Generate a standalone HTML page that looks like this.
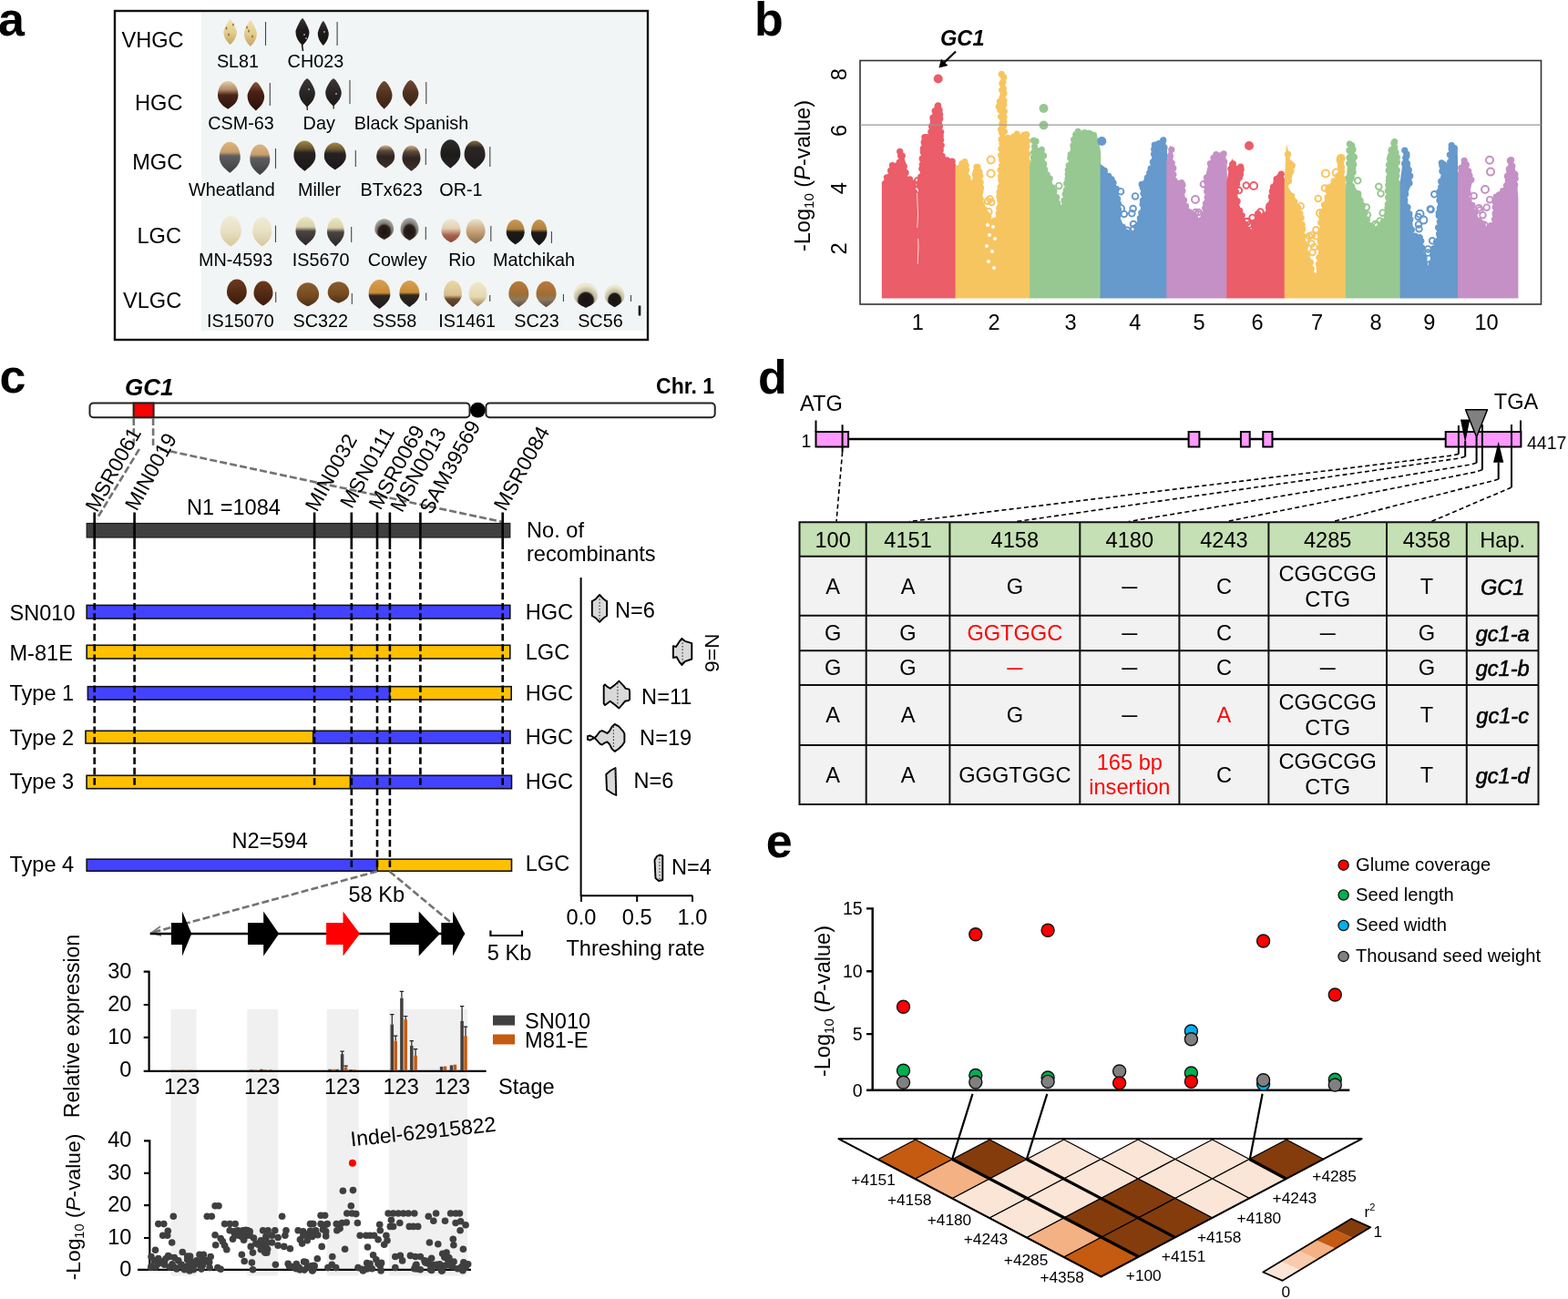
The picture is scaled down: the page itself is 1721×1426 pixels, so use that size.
<!DOCTYPE html>
<html><head><meta charset="utf-8"><title>Figure</title>
<style>
html,body{margin:0;padding:0;background:#fff;width:1721px;height:1426px;overflow:hidden}
svg{display:block}
text{font-family:"Liberation Sans",Arial,sans-serif}
.pl{font-size:52px;font-weight:bold}
.t228{font-size:22.8px} .t22{font-size:23.6px} .t215{font-size:23.6px} .t21{font-size:21.4px} .t235{font-size:26px}
.t20{font-size:20.2px} .t205{font-size:20.8px} .t195{font-size:19.5px} .t185{font-size:19.8px} .t163{font-size:17.3px}
</style></head><body>
<svg width="1721" height="1426" viewBox="0 0 1721 1426">
<defs><linearGradient id="g_pale" x1="0" y1="0" x2="0" y2="1"><stop offset="0" stop-color="#efe3b4"/><stop offset="0.5" stop-color="#e2cf8e"/><stop offset="1" stop-color="#c4a462"/></linearGradient>
<linearGradient id="g_black" x1="0" y1="0" x2="0" y2="1"><stop offset="0" stop-color="#3a3434"/><stop offset="0.4" stop-color="#201c1c"/><stop offset="1" stop-color="#151212"/></linearGradient>
<linearGradient id="g_csm" x1="0" y1="0" x2="0" y2="1"><stop offset="0" stop-color="#e4cfa4"/><stop offset="0.3" stop-color="#b08a6a"/><stop offset="0.5" stop-color="#4a2418"/><stop offset="1" stop-color="#2a1410"/></linearGradient>
<linearGradient id="g_csm2" x1="0" y1="0" x2="0" y2="1"><stop offset="0" stop-color="#8a5a3a"/><stop offset="0.35" stop-color="#4a2014"/><stop offset="1" stop-color="#2a120c"/></linearGradient>
<linearGradient id="g_day" x1="0" y1="0" x2="0" y2="1"><stop offset="0" stop-color="#3d3838"/><stop offset="0.5" stop-color="#2a2525"/><stop offset="1" stop-color="#1c1818"/></linearGradient>
<linearGradient id="g_brown" x1="0" y1="0" x2="0" y2="1"><stop offset="0" stop-color="#6e4a32"/><stop offset="0.5" stop-color="#4e301e"/><stop offset="1" stop-color="#3a2214"/></linearGradient>
<linearGradient id="g_wheat" x1="0" y1="0" x2="0" y2="1"><stop offset="0" stop-color="#dcb682"/><stop offset="0.33" stop-color="#c89e6c"/><stop offset="0.45" stop-color="#5e5e60"/><stop offset="1" stop-color="#3e3e40"/></linearGradient>
<linearGradient id="g_miller" x1="0" y1="0" x2="0" y2="1"><stop offset="0" stop-color="#a88a48"/><stop offset="0.25" stop-color="#6a5830"/><stop offset="0.4" stop-color="#262222"/><stop offset="1" stop-color="#1a1717"/></linearGradient>
<linearGradient id="g_btx" x1="0" y1="0" x2="0" y2="1"><stop offset="0" stop-color="#cdb48e"/><stop offset="0.25" stop-color="#5a463a"/><stop offset="0.5" stop-color="#2e2420"/><stop offset="1" stop-color="#3e3028"/></linearGradient>
<linearGradient id="g_or1" x1="0" y1="0" x2="0" y2="1"><stop offset="0" stop-color="#2e2b2b"/><stop offset="0.5" stop-color="#1e1b1b"/><stop offset="1" stop-color="#262222"/></linearGradient>
<linearGradient id="g_or1b" x1="0" y1="0" x2="0" y2="1"><stop offset="0" stop-color="#8a7040"/><stop offset="0.25" stop-color="#2a2624"/><stop offset="1" stop-color="#1e1b1b"/></linearGradient>
<linearGradient id="g_cream" x1="0" y1="0" x2="0" y2="1"><stop offset="0" stop-color="#f0ecd8"/><stop offset="0.5" stop-color="#e8e0c2"/><stop offset="1" stop-color="#d6c8a0"/></linearGradient>
<linearGradient id="g_is5670" x1="0" y1="0" x2="0" y2="1"><stop offset="0" stop-color="#ece6c4"/><stop offset="0.35" stop-color="#d8d0a8"/><stop offset="0.5" stop-color="#4a4542"/><stop offset="1" stop-color="#2a2624"/></linearGradient>
<linearGradient id="g_cowley" x1="0" y1="0" x2="0" y2="1"><stop offset="0" stop-color="#a4a29a"/><stop offset="0.3" stop-color="#8e8a82"/><stop offset="0.45" stop-color="#2a201c"/><stop offset="1" stop-color="#1e1614"/></linearGradient>
<linearGradient id="g_rio" x1="0" y1="0" x2="0" y2="1"><stop offset="0" stop-color="#eee8d4"/><stop offset="0.4" stop-color="#e2d0b4"/><stop offset="0.7" stop-color="#a8604a"/><stop offset="1" stop-color="#8a4a36"/></linearGradient>
<linearGradient id="g_rio2" x1="0" y1="0" x2="0" y2="1"><stop offset="0" stop-color="#ece4cc"/><stop offset="0.5" stop-color="#c8a478"/><stop offset="1" stop-color="#8a6a48"/></linearGradient>
<linearGradient id="g_match" x1="0" y1="0" x2="0" y2="1"><stop offset="0" stop-color="#c89a52"/><stop offset="0.38" stop-color="#b08040"/><stop offset="0.5" stop-color="#1e1a1a"/><stop offset="1" stop-color="#141212"/></linearGradient>
<linearGradient id="g_is15070" x1="0" y1="0" x2="0" y2="1"><stop offset="0" stop-color="#6a3a1e"/><stop offset="0.5" stop-color="#552a14"/><stop offset="1" stop-color="#3a1c0c"/></linearGradient>
<linearGradient id="g_sc322" x1="0" y1="0" x2="0" y2="1"><stop offset="0" stop-color="#8c5e30"/><stop offset="0.6" stop-color="#74491f"/><stop offset="1" stop-color="#4a2e18"/></linearGradient>
<linearGradient id="g_ss58" x1="0" y1="0" x2="0" y2="1"><stop offset="0" stop-color="#d8a050"/><stop offset="0.45" stop-color="#c88c3a"/><stop offset="0.55" stop-color="#2e2622"/><stop offset="1" stop-color="#1e1a18"/></linearGradient>
<linearGradient id="g_is1461" x1="0" y1="0" x2="0" y2="1"><stop offset="0" stop-color="#ead8aa"/><stop offset="0.55" stop-color="#d8c08c"/><stop offset="0.7" stop-color="#6a4a30"/><stop offset="1" stop-color="#4a3424"/></linearGradient>
<linearGradient id="g_is1461b" x1="0" y1="0" x2="0" y2="1"><stop offset="0" stop-color="#f0e8cc"/><stop offset="0.6" stop-color="#e6d8b0"/><stop offset="1" stop-color="#a08050"/></linearGradient>
<linearGradient id="g_sc23" x1="0" y1="0" x2="0" y2="1"><stop offset="0" stop-color="#b87c3c"/><stop offset="0.5" stop-color="#a06c34"/><stop offset="0.7" stop-color="#8a7a60"/><stop offset="1" stop-color="#5a4a3a"/></linearGradient>
<linearGradient id="g_sc56" x1="0" y1="0" x2="0" y2="1"><stop offset="0" stop-color="#ece8d0"/><stop offset="0.4" stop-color="#ddd4b0"/><stop offset="0.55" stop-color="#241e1c"/><stop offset="1" stop-color="#1a1616"/></linearGradient>
<radialGradient id="g_rcowley" cx="0.5" cy="0.62" r="0.55"><stop offset="0" stop-color="#1c1412"/><stop offset="0.55" stop-color="#2a201c"/><stop offset="0.72" stop-color="#7a756e"/><stop offset="1" stop-color="#a3a19a"/></radialGradient>
<radialGradient id="g_rsc56" cx="0.5" cy="0.7" r="0.6"><stop offset="0" stop-color="#161212"/><stop offset="0.5" stop-color="#1e1a18"/><stop offset="0.62" stop-color="#bdb69a"/><stop offset="1" stop-color="#ece8d0"/></radialGradient></defs>
<rect width="1721" height="1426" fill="#fff"/>
<text x="-2" y="38.8" class="pl">a</text>
<rect x="221" y="14" width="487" height="349" fill="#f2f5f5"/>
<rect x="126" y="12" width="585" height="361" fill="none" stroke="#111" stroke-width="2.4"/>
<text x="201.6" y="52.199999999999996" class="t22" text-anchor="end">VHGC</text>
<text x="200.5" y="121.1" class="t22" text-anchor="end">HGC</text>
<text x="200.2" y="186.4" class="t22" text-anchor="end">MGC</text>
<text x="199" y="266.5" class="t22" text-anchor="end">LGC</text>
<text x="199.2" y="338.0" class="t22" text-anchor="end">VLGC</text>
<path d="M252.6,21.1 C254.0,21.1 259.8,32.3 259.8,35.1 C259.8,42.1 255.5,46.3 252.6,49.1 C249.7,46.3 245.4,42.1 245.4,35.1 C245.4,32.3 251.2,21.1 252.6,21.1 Z" fill="url(#g_pale)"/>
<path d="M274.9,22.1 C276.3,22.1 281.9,33.6 281.9,36.5 C281.9,43.7 277.7,48.0 274.9,50.9 C272.1,48.0 267.9,43.7 267.9,36.5 C267.9,33.6 273.5,22.1 274.9,22.1 Z" fill="url(#g_pale)"/>
<path d="M332.0,20.1 C333.5,20.1 339.5,32.1 339.5,35.1 C339.5,42.6 334.6,47.1 332.0,50.1 C329.4,47.1 324.5,42.6 324.5,35.1 C324.5,32.1 330.5,20.1 332.0,20.1 Z" fill="url(#g_black)"/>
<path d="M354.8,23.0 C356.0,23.0 360.8,33.8 360.8,36.5 C360.8,43.2 357.2,47.3 354.8,50.0 C352.4,47.3 348.8,43.2 348.8,36.5 C348.8,33.8 353.6,23.0 354.8,23.0 Z" fill="url(#g_black)"/>
<path d="M250.2,89.1 C256.5,89.1 261.4,95.8 261.4,104.4 C261.4,112.1 255.2,116.6 250.2,119.7 C245.2,116.6 239.0,112.1 239.0,104.4 C239.0,95.8 243.9,89.1 250.2,89.1 Z" fill="url(#g_csm)"/>
<path d="M280.9,90.0 C283.7,90.0 290.2,101.1 290.2,105.8 C290.2,113.7 284.2,118.4 280.9,121.6 C277.6,118.4 271.6,113.7 271.6,105.8 C271.6,101.1 278.1,90.0 280.9,90.0 Z" fill="url(#g_csm2)"/>
<path d="M337.1,86.2 C339.7,86.2 345.9,97.3 345.9,102.0 C345.9,109.9 339.7,114.6 337.1,117.8 C334.5,114.6 328.3,109.9 328.3,102.0 C328.3,97.3 334.5,86.2 337.1,86.2 Z" fill="url(#g_day)"/>
<path d="M366.0,86.2 C368.6,86.2 374.8,96.9 374.8,101.5 C374.8,109.2 368.6,113.7 366.0,116.8 C363.4,113.7 357.2,109.2 357.2,101.5 C357.2,96.9 363.4,86.2 366.0,86.2 Z" fill="url(#g_day)"/>
<path d="M421.7,89.1 C424.8,89.1 430.5,99.0 430.5,104.4 C430.5,112.1 424.3,116.6 421.7,119.7 C419.1,116.6 412.9,112.1 412.9,104.4 C412.9,99.0 418.6,89.1 421.7,89.1 Z" fill="url(#g_brown)"/>
<path d="M450.6,88.1 C453.7,88.1 459.4,97.5 459.4,102.5 C459.4,109.7 453.2,114.0 450.6,116.9 C448.0,114.0 441.8,109.7 441.8,102.5 C441.8,97.5 447.5,88.1 450.6,88.1 Z" fill="url(#g_brown)"/>
<path d="M252.3,155.8 C258.7,155.8 263.8,163.3 263.8,172.8 C263.8,181.3 256.3,186.4 252.3,189.8 C248.3,186.4 240.8,181.3 240.8,172.8 C240.8,163.3 245.9,155.8 252.3,155.8 Z" fill="url(#g_wheat)"/>
<path d="M285.3,158.6 C291.5,158.6 296.3,165.9 296.3,175.3 C296.3,183.7 289.2,188.7 285.3,192.0 C281.4,188.7 274.3,183.7 274.3,175.3 C274.3,165.9 279.1,158.6 285.3,158.6 Z" fill="url(#g_wheat)"/>
<path d="M334.4,154.4 C341.1,154.4 346.4,161.7 346.4,171.1 C346.4,179.4 338.6,184.5 334.4,187.8 C330.2,184.5 322.4,179.4 322.4,171.1 C322.4,161.7 327.7,154.4 334.4,154.4 Z" fill="url(#g_miller)"/>
<path d="M367.8,156.6 C374.5,156.6 379.8,163.2 379.8,171.6 C379.8,179.1 372.0,183.6 367.8,186.6 C363.6,183.6 355.8,179.1 355.8,171.6 C355.8,163.2 361.1,156.6 367.8,156.6 Z" fill="url(#g_miller)"/>
<path d="M423.2,159.6 C428.8,159.6 433.2,165.1 433.2,172.1 C433.2,178.3 427.2,182.1 423.2,184.6 C419.2,182.1 413.2,178.3 413.2,172.1 C413.2,165.1 417.6,159.6 423.2,159.6 Z" fill="url(#g_btx)"/>
<path d="M451.5,159.7 C457.1,159.7 461.5,165.9 461.5,173.7 C461.5,180.7 455.5,184.9 451.5,187.7 C447.5,184.9 441.5,180.7 441.5,173.7 C441.5,165.9 445.9,159.7 451.5,159.7 Z" fill="url(#g_btx)"/>
<path d="M494.4,153.3 C500.6,153.3 505.4,160.2 505.4,169.0 C505.4,176.8 498.2,181.6 494.4,184.7 C490.5,181.6 483.4,176.8 483.4,169.0 C483.4,160.2 488.2,153.3 494.4,153.3 Z" fill="url(#g_or1)"/>
<path d="M521.1,154.4 C527.5,154.4 532.6,161.3 532.6,170.1 C532.6,177.9 525.1,182.7 521.1,185.8 C517.1,182.7 509.6,177.9 509.6,170.1 C509.6,161.3 514.7,154.4 521.1,154.4 Z" fill="url(#g_or1b)"/>
<path d="M253.3,237.1 C259.7,237.1 264.8,244.4 264.8,253.8 C264.8,262.2 258.5,267.2 253.3,270.5 C248.1,267.2 241.8,262.2 241.8,253.8 C241.8,244.4 246.9,237.1 253.3,237.1 Z" fill="url(#g_cream)"/>
<path d="M287.8,238.1 C293.7,238.1 298.3,245.2 298.3,254.3 C298.3,262.4 292.5,267.3 287.8,270.5 C283.1,267.3 277.3,262.4 277.3,254.3 C277.3,245.2 281.9,238.1 287.8,238.1 Z" fill="url(#g_cream)"/>
<path d="M335.5,238.1 C341.7,238.1 346.5,245.0 346.5,253.8 C346.5,261.7 338.8,266.4 335.5,269.5 C332.2,266.4 324.5,261.7 324.5,253.8 C324.5,245.0 329.3,238.1 335.5,238.1 Z" fill="url(#g_is5670)"/>
<path d="M368.4,239.1 C373.7,239.1 377.8,246.0 377.8,254.8 C377.8,262.7 371.2,267.4 368.4,270.5 C365.6,267.4 359.0,262.7 359.0,254.8 C359.0,246.0 363.1,239.1 368.4,239.1 Z" fill="url(#g_is5670)"/>
<path d="M421.7,240.2 C427.6,240.2 432.2,245.3 432.2,251.7 C432.2,257.4 426.4,260.9 421.7,263.2 C417.0,260.9 411.2,257.4 411.2,251.7 C411.2,245.3 415.8,240.2 421.7,240.2 Z" fill="url(#g_rcowley)"/>
<path d="M449.5,239.2 C455.1,239.2 459.5,244.7 459.5,251.7 C459.5,257.9 454.0,261.7 449.5,264.2 C445.0,261.7 439.5,257.9 439.5,251.7 C439.5,244.7 443.9,239.2 449.5,239.2 Z" fill="url(#g_rcowley)"/>
<path d="M495.0,240.3 C500.9,240.3 505.5,246.0 505.5,253.3 C505.5,259.8 500.2,263.7 495.0,266.3 C489.8,263.7 484.5,259.8 484.5,253.3 C484.5,246.0 489.1,240.3 495.0,240.3 Z" fill="url(#g_rio)"/>
<path d="M522.1,240.2 C528.0,240.2 532.6,246.2 532.6,253.8 C532.6,260.6 527.4,264.7 522.1,267.4 C516.9,264.7 511.6,260.6 511.6,253.8 C511.6,246.2 516.2,240.2 522.1,240.2 Z" fill="url(#g_rio2)"/>
<path d="M565.7,241.1 C571.3,241.1 575.7,247.1 575.7,254.8 C575.7,261.7 569.7,265.8 565.7,268.5 C561.7,265.8 555.7,261.7 555.7,254.8 C555.7,247.1 560.1,241.1 565.7,241.1 Z" fill="url(#g_match)"/>
<path d="M591.7,241.0 C596.6,241.0 600.4,247.2 600.4,255.2 C600.4,262.3 595.2,266.6 591.7,269.4 C588.2,266.6 583.0,262.3 583.0,255.2 C583.0,247.2 586.8,241.0 591.7,241.0 Z" fill="url(#g_match)"/>
<path d="M259.9,306.6 C266.0,306.6 270.8,312.8 270.8,320.6 C270.8,327.6 265.3,331.8 259.9,334.6 C254.4,331.8 249.0,327.6 249.0,320.6 C249.0,312.8 253.8,306.6 259.9,306.6 Z" fill="url(#g_is15070)"/>
<path d="M289.0,308.5 C294.9,308.5 299.5,314.4 299.5,322.0 C299.5,328.8 293.7,332.8 289.0,335.5 C284.3,332.8 278.5,328.8 278.5,322.0 C278.5,314.4 283.1,308.5 289.0,308.5 Z" fill="url(#g_is15070)"/>
<path d="M337.9,310.2 C344.7,310.2 350.1,315.9 350.1,323.2 C350.1,329.7 344.6,333.6 337.9,336.2 C331.2,333.6 325.7,329.7 325.7,323.2 C325.7,315.9 331.1,310.2 337.9,310.2 Z" fill="url(#g_sc322)"/>
<path d="M371.5,309.2 C378.1,309.2 383.3,314.4 383.3,321.0 C383.3,326.9 378.6,330.4 371.5,332.8 C364.4,330.4 359.7,326.9 359.7,321.0 C359.7,314.4 364.9,309.2 371.5,309.2 Z" fill="url(#g_sc322)"/>
<path d="M416.5,307.0 C423.2,307.0 428.4,314.0 428.4,323.0 C428.4,331.0 420.7,335.8 416.5,339.0 C412.3,335.8 404.6,331.0 404.6,323.0 C404.6,314.0 409.8,307.0 416.5,307.0 Z" fill="url(#g_ss58)"/>
<path d="M449.4,307.9 C455.6,307.9 460.4,314.3 460.4,322.5 C460.4,329.8 453.2,334.2 449.4,337.1 C445.5,334.2 438.4,329.8 438.4,322.5 C438.4,314.3 443.2,307.9 449.4,307.9 Z" fill="url(#g_ss58)"/>
<path d="M497.0,307.9 C502.6,307.9 507.0,314.3 507.0,322.5 C507.0,329.8 500.5,334.2 497.0,337.1 C493.5,334.2 487.0,329.8 487.0,322.5 C487.0,314.3 491.4,307.9 497.0,307.9 Z" fill="url(#g_is1461)"/>
<path d="M524.5,309.7 C530.1,309.7 534.5,315.6 534.5,323.0 C534.5,329.6 528.0,333.6 524.5,336.3 C521.0,333.6 514.5,329.6 514.5,323.0 C514.5,315.6 518.9,309.7 524.5,309.7 Z" fill="url(#g_is1461b)"/>
<path d="M569.3,308.8 C575.5,308.8 580.3,315.0 580.3,323.0 C580.3,330.1 573.7,334.4 569.3,337.2 C564.9,334.4 558.3,330.1 558.3,323.0 C558.3,315.0 563.1,308.8 569.3,308.8 Z" fill="url(#g_sc23)"/>
<path d="M599.5,308.8 C605.7,308.8 610.5,315.0 610.5,323.0 C610.5,330.1 603.9,334.4 599.5,337.2 C595.1,334.4 588.5,330.1 588.5,323.0 C588.5,315.0 593.3,308.8 599.5,308.8 Z" fill="url(#g_sc23)"/>
<path d="M643.0,310.6 C650.4,310.6 656.3,316.6 656.3,324.3 C656.3,331.2 649.0,335.3 643.0,338.0 C637.0,335.3 629.7,331.2 629.7,324.3 C629.7,316.6 635.6,310.6 643.0,310.6 Z" fill="url(#g_rsc56)"/>
<path d="M674.6,312.4 C680.8,312.4 685.6,317.9 685.6,324.8 C685.6,331.0 679.6,334.7 674.6,337.2 C669.6,334.7 663.6,331.0 663.6,324.8 C663.6,317.9 668.4,312.4 674.6,312.4 Z" fill="url(#g_rsc56)"/>
<ellipse cx="248.5" cy="31" rx="0.9" ry="1.6" fill="#8a4a2a" opacity="0.8"/>
<ellipse cx="251" cy="38" rx="0.9" ry="1.6" fill="#8a4a2a" opacity="0.8"/>
<ellipse cx="256" cy="27" rx="0.9" ry="1.6" fill="#8a4a2a" opacity="0.8"/>
<ellipse cx="271" cy="30" rx="0.9" ry="1.6" fill="#8a4a2a" opacity="0.8"/>
<ellipse cx="277" cy="40" rx="0.9" ry="1.6" fill="#8a4a2a" opacity="0.8"/>
<ellipse cx="273" cy="34" rx="0.9" ry="1.6" fill="#8a4a2a" opacity="0.8"/>
<path d="M331.5,49 L332.5,56" stroke="#1a1616" stroke-width="1.6"/>
<path d="M337,116 L337.4,121 M366,115.5 L366.3,119.5" stroke="#2a2424" stroke-width="1.3"/>
<circle cx="334" cy="38" r="1" fill="#d8d8d8" opacity="0.7"/>
<circle cx="336" cy="42" r="1" fill="#d8d8d8" opacity="0.7"/>
<circle cx="356" cy="35" r="1" fill="#d8d8d8" opacity="0.7"/>
<circle cx="339" cy="98" r="1" fill="#d8d8d8" opacity="0.7"/>
<circle cx="369" cy="103" r="1" fill="#d8d8d8" opacity="0.7"/>
<line x1="291.5" y1="24" x2="291.5" y2="50" stroke="#444" stroke-width="1.1"/>
<line x1="370.1" y1="24" x2="370.1" y2="50" stroke="#444" stroke-width="1.1"/>
<line x1="296.3" y1="91" x2="296.3" y2="116" stroke="#444" stroke-width="1.1"/>
<line x1="384" y1="88" x2="384" y2="114" stroke="#444" stroke-width="1.1"/>
<line x1="467.8" y1="90" x2="467.8" y2="114" stroke="#444" stroke-width="1.1"/>
<line x1="302.5" y1="163" x2="302.5" y2="185" stroke="#444" stroke-width="1.1"/>
<line x1="390.3" y1="165" x2="390.3" y2="183" stroke="#444" stroke-width="1.1"/>
<line x1="467.3" y1="163" x2="467.3" y2="181" stroke="#444" stroke-width="1.1"/>
<line x1="537.8" y1="161" x2="537.8" y2="183" stroke="#444" stroke-width="1.1"/>
<line x1="302.5" y1="247.5" x2="302.5" y2="266" stroke="#444" stroke-width="1.1"/>
<line x1="385.7" y1="249" x2="385.7" y2="266" stroke="#444" stroke-width="1.1"/>
<line x1="467.3" y1="249" x2="467.3" y2="263" stroke="#444" stroke-width="1.1"/>
<line x1="538.8" y1="248" x2="538.8" y2="265" stroke="#444" stroke-width="1.1"/>
<line x1="605.4" y1="254" x2="605.4" y2="267" stroke="#444" stroke-width="1.1"/>
<line x1="302.7" y1="320.6" x2="302.7" y2="332" stroke="#444" stroke-width="1.1"/>
<line x1="386.3" y1="322" x2="386.3" y2="334" stroke="#444" stroke-width="1.1"/>
<line x1="467.7" y1="321.6" x2="467.7" y2="330" stroke="#444" stroke-width="1.1"/>
<line x1="537.7" y1="324" x2="537.7" y2="331" stroke="#444" stroke-width="1.1"/>
<line x1="618.4" y1="323" x2="618.4" y2="331" stroke="#444" stroke-width="1.1"/>
<line x1="692.5" y1="324" x2="692.5" y2="331" stroke="#444" stroke-width="1.1"/>
<line x1="702" y1="335.5" x2="702" y2="346.5" stroke="#111" stroke-width="2.6"/>
<text x="261" y="74.4" class="t185" text-anchor="middle">SL81</text>
<text x="346.4" y="74.4" class="t185" text-anchor="middle">CH023</text>
<text x="264.6" y="142.29999999999998" class="t185" text-anchor="middle">CSM-63</text>
<text x="350.2" y="142.29999999999998" class="t185" text-anchor="middle">Day</text>
<text x="451.5" y="142.29999999999998" class="t185" text-anchor="middle">Black Spanish</text>
<text x="254.4" y="214.79999999999998" class="t185" text-anchor="middle">Wheatland</text>
<text x="350.6" y="214.79999999999998" class="t185" text-anchor="middle">Miller</text>
<text x="429.6" y="214.79999999999998" class="t185" text-anchor="middle">BTx623</text>
<text x="505.9" y="214.79999999999998" class="t185" text-anchor="middle">OR-1</text>
<text x="258.6" y="292.0" class="t185" text-anchor="middle">MN-4593</text>
<text x="352.2" y="292.0" class="t185" text-anchor="middle">IS5670</text>
<text x="436.2" y="292.0" class="t185" text-anchor="middle">Cowley</text>
<text x="507" y="292.0" class="t185" text-anchor="middle">Rio</text>
<text x="586" y="292.0" class="t185" text-anchor="middle">Matchikah</text>
<text x="263.8" y="359.09999999999997" class="t185" text-anchor="middle">IS15070</text>
<text x="351.7" y="359.09999999999997" class="t185" text-anchor="middle">SC322</text>
<text x="433" y="359.09999999999997" class="t185" text-anchor="middle">SS58</text>
<text x="512.6" y="359.09999999999997" class="t185" text-anchor="middle">IS1461</text>
<text x="589" y="359.09999999999997" class="t185" text-anchor="middle">SC23</text>
<text x="658.9" y="359.09999999999997" class="t185" text-anchor="middle">SC56</text>
<text x="828" y="39.3" class="pl">b</text>
<path d="M967.8,327.5 L967.8,200.0 L970.8,197.0 L975.0,190.0 L978.6,180.0 L985.5,177.8 L989.4,164.0 L991.4,170.0 L994.4,179.7 L996.3,194.0 L1001.2,197.4 L1005.2,209.0 L1007.5,214.0 L1010.0,187.6 L1012.0,152.0 L1016.0,147.0 L1019.5,152.0 L1021.0,132.0 L1025.8,118.0 L1029.7,113.0 L1033.5,118.0 L1034.2,148.0 L1034.6,170.0 L1038.5,173.0 L1046.4,176.0 L1049.3,181.0 L1049.3,327.5 Z" fill="#ea5d69"/>
<g fill="#ea5d69"><circle cx="973.4" cy="194.8" r="3.6"/><circle cx="977.6" cy="187.3" r="3.6"/><circle cx="979.4" cy="181.6" r="3.6"/><circle cx="987.2" cy="178.1" r="3.6"/><circle cx="988.6" cy="170.9" r="3.6"/><circle cx="987.7" cy="166.3" r="3.6"/><circle cx="990.3" cy="171.1" r="3.6"/><circle cx="992.3" cy="182.7" r="3.6"/><circle cx="994.1" cy="189.5" r="3.6"/><circle cx="998.6" cy="196.9" r="3.6"/><circle cx="1000.8" cy="200.9" r="3.6"/><circle cx="1002.2" cy="204.1" r="3.6"/><circle cx="1003.5" cy="210.9" r="3.6"/><circle cx="1009.5" cy="213.5" r="3.6"/><circle cx="1010.0" cy="205.0" r="3.6"/><circle cx="1010.1" cy="198.7" r="3.6"/><circle cx="1010.7" cy="194.1" r="3.6"/><circle cx="1011.8" cy="185.3" r="3.6"/><circle cx="1012.3" cy="180.7" r="3.6"/><circle cx="1012.2" cy="174.2" r="3.6"/><circle cx="1013.3" cy="167.1" r="3.6"/><circle cx="1013.3" cy="163.1" r="3.6"/><circle cx="1014.2" cy="156.2" r="3.6"/><circle cx="1014.9" cy="150.7" r="3.6"/><circle cx="1017.1" cy="150.6" r="3.6"/><circle cx="1021.8" cy="150.5" r="3.6"/><circle cx="1021.8" cy="144.9" r="3.6"/><circle cx="1022.6" cy="138.7" r="3.6"/><circle cx="1023.9" cy="129.4" r="3.6"/><circle cx="1026.1" cy="121.8" r="3.6"/><circle cx="1029.0" cy="117.1" r="3.6"/><circle cx="1029.6" cy="115.8" r="3.6"/><circle cx="1031.1" cy="121.1" r="3.6"/><circle cx="1031.6" cy="125.8" r="3.6"/><circle cx="1031.7" cy="130.3" r="3.6"/><circle cx="1031.4" cy="138.4" r="3.6"/><circle cx="1032.7" cy="145.0" r="3.6"/><circle cx="1032.2" cy="149.3" r="3.6"/><circle cx="1032.6" cy="153.6" r="3.6"/><circle cx="1033.2" cy="159.6" r="3.6"/><circle cx="1032.3" cy="164.7" r="3.6"/><circle cx="1034.1" cy="171.3" r="3.6"/><circle cx="1039.5" cy="175.9" r="3.6"/><circle cx="1045.1" cy="177.1" r="3.6"/></g>
<g fill="none" stroke="#ea5d69" stroke-width="1.9"><circle cx="1007.2" cy="198.3" r="3.3"/><circle cx="1004.0" cy="202.5" r="3.3"/></g>
<circle cx="1029.7" cy="86.5" r="5.0" fill="#ea5d69"/>
<path d="M1048.6,327.5 L1048.6,181.0 L1050.3,185.6 L1054.2,177.8 L1060.1,173.9 L1062.0,185.6 L1066.0,201.3 L1071.0,181.7 L1074.8,179.7 L1077.8,197.4 L1078.8,221.0 L1082.7,232.7 L1085.6,236.7 L1089.6,242.6 L1093.5,236.7 L1095.5,217.0 L1097.4,178.0 L1097.4,125.0 L1094.0,119.0 L1097.4,107.0 L1098.4,89.0 L1100.4,80.0 L1102.3,89.0 L1104.0,119.0 L1103.3,150.0 L1109.2,150.0 L1115.1,144.4 L1121.0,148.3 L1126.9,143.4 L1128.8,152.3 L1129.8,174.0 L1130.8,181.7 L1130.8,327.5 Z" fill="#f7c560"/>
<g fill="#f7c560"><circle cx="1052.5" cy="184.7" r="3.6"/><circle cx="1055.9" cy="179.5" r="3.6"/><circle cx="1058.9" cy="177.7" r="3.6"/><circle cx="1060.2" cy="181.6" r="3.6"/><circle cx="1060.6" cy="186.5" r="3.6"/><circle cx="1062.1" cy="195.3" r="3.6"/><circle cx="1067.2" cy="200.9" r="3.6"/><circle cx="1070.4" cy="191.5" r="3.6"/><circle cx="1071.3" cy="188.1" r="3.6"/><circle cx="1071.9" cy="183.3" r="3.6"/><circle cx="1073.0" cy="183.6" r="3.6"/><circle cx="1074.8" cy="188.3" r="3.6"/><circle cx="1075.8" cy="193.0" r="3.6"/><circle cx="1076.1" cy="200.2" r="3.6"/><circle cx="1076.6" cy="206.1" r="3.6"/><circle cx="1076.0" cy="210.1" r="3.6"/><circle cx="1076.3" cy="218.7" r="3.6"/><circle cx="1077.6" cy="224.6" r="3.6"/><circle cx="1080.3" cy="229.9" r="3.6"/><circle cx="1082.3" cy="234.9" r="3.6"/><circle cx="1084.8" cy="237.4" r="3.6"/><circle cx="1091.4" cy="242.4" r="3.6"/><circle cx="1096.3" cy="234.2" r="3.6"/><circle cx="1096.8" cy="228.6" r="3.6"/><circle cx="1097.7" cy="219.9" r="3.6"/><circle cx="1096.9" cy="215.8" r="3.6"/><circle cx="1097.1" cy="210.7" r="3.6"/><circle cx="1098.1" cy="205.3" r="3.6"/><circle cx="1098.8" cy="197.4" r="3.6"/><circle cx="1098.7" cy="193.2" r="3.6"/><circle cx="1098.1" cy="186.5" r="3.6"/><circle cx="1099.7" cy="181.5" r="3.6"/><circle cx="1099.6" cy="175.2" r="3.6"/><circle cx="1098.7" cy="170.4" r="3.6"/><circle cx="1098.9" cy="163.4" r="3.6"/><circle cx="1100.0" cy="157.5" r="3.6"/><circle cx="1099.0" cy="153.0" r="3.6"/><circle cx="1099.6" cy="145.2" r="3.6"/><circle cx="1098.6" cy="142.1" r="3.6"/><circle cx="1099.8" cy="136.2" r="3.6"/><circle cx="1098.6" cy="128.0" r="3.6"/><circle cx="1097.9" cy="120.8" r="3.6"/><circle cx="1096.2" cy="117.1" r="3.6"/><circle cx="1097.4" cy="111.4" r="3.6"/><circle cx="1100.0" cy="107.1" r="3.6"/><circle cx="1099.7" cy="98.8" r="3.6"/><circle cx="1099.9" cy="91.7" r="3.6"/><circle cx="1101.7" cy="84.8" r="3.6"/><circle cx="1099.3" cy="81.4" r="3.6"/><circle cx="1101.0" cy="90.1" r="3.6"/><circle cx="1101.3" cy="97.2" r="3.6"/><circle cx="1101.9" cy="102.6" r="3.6"/><circle cx="1101.9" cy="110.4" r="3.6"/><circle cx="1101.8" cy="114.8" r="3.6"/><circle cx="1102.3" cy="122.3" r="3.6"/><circle cx="1102.0" cy="128.6" r="3.6"/><circle cx="1101.8" cy="133.3" r="3.6"/><circle cx="1101.9" cy="137.6" r="3.6"/><circle cx="1102.4" cy="144.5" r="3.6"/><circle cx="1106.1" cy="151.3" r="3.6"/><circle cx="1112.4" cy="150.0" r="3.6"/><circle cx="1116.2" cy="147.0" r="3.6"/><circle cx="1124.0" cy="148.2" r="3.6"/><circle cx="1126.7" cy="147.8" r="3.6"/><circle cx="1127.5" cy="154.8" r="3.6"/><circle cx="1127.0" cy="160.8" r="3.6"/><circle cx="1127.7" cy="169.1" r="3.6"/><circle cx="1127.8" cy="177.8" r="3.6"/></g>
<g fill="none" stroke="#f7c560" stroke-width="1.9"><circle cx="1084.1" cy="220.8" r="3.3"/><circle cx="1085.4" cy="232.2" r="3.3"/><circle cx="1088.3" cy="221.9" r="3.3"/><circle cx="1086.5" cy="218.4" r="3.3"/></g>
<circle cx="1087.6" cy="175.5" r="3.9999999999999996" fill="none" stroke="#f7c560" stroke-width="2"/>
<circle cx="1087.6" cy="190.5" r="3.9999999999999996" fill="none" stroke="#f7c560" stroke-width="2"/>
<path d="M1130.1,327.5 L1130.1,181.7 L1133.0,170.0 L1135.7,152.0 L1138.5,160.0 L1141.0,170.0 L1144.0,163.0 L1146.5,170.0 L1147.0,178.8 L1150.0,190.0 L1153.4,194.5 L1156.0,205.0 L1159.0,209.0 L1162.0,220.0 L1165.0,227.0 L1168.0,210.0 L1171.0,187.6 L1174.0,170.0 L1176.0,156.0 L1179.0,148.0 L1182.0,142.5 L1188.0,145.0 L1194.6,142.5 L1200.0,146.0 L1204.4,150.0 L1207.0,160.0 L1208.3,168.0 L1208.3,327.5 Z" fill="#97c891"/>
<g fill="#97c891"><circle cx="1134.5" cy="172.9" r="3.6"/><circle cx="1134.6" cy="167.3" r="3.6"/><circle cx="1135.5" cy="161.1" r="3.6"/><circle cx="1137.0" cy="155.2" r="3.6"/><circle cx="1134.5" cy="154.3" r="3.6"/><circle cx="1138.5" cy="165.9" r="3.6"/><circle cx="1142.9" cy="170.2" r="3.6"/><circle cx="1143.3" cy="164.4" r="3.6"/><circle cx="1145.5" cy="170.9" r="3.6"/><circle cx="1145.7" cy="179.9" r="3.6"/><circle cx="1146.6" cy="186.0" r="3.6"/><circle cx="1149.2" cy="191.9" r="3.6"/><circle cx="1152.2" cy="196.0" r="3.6"/><circle cx="1154.9" cy="205.9" r="3.6"/><circle cx="1156.9" cy="209.6" r="3.6"/><circle cx="1159.7" cy="216.7" r="3.6"/><circle cx="1160.6" cy="223.0" r="3.6"/><circle cx="1167.3" cy="227.0" r="3.6"/><circle cx="1168.0" cy="220.2" r="3.6"/><circle cx="1169.1" cy="213.1" r="3.6"/><circle cx="1170.3" cy="208.6" r="3.6"/><circle cx="1170.7" cy="201.3" r="3.6"/><circle cx="1172.0" cy="196.3" r="3.6"/><circle cx="1172.2" cy="191.3" r="3.6"/><circle cx="1172.3" cy="186.6" r="3.6"/><circle cx="1173.2" cy="181.5" r="3.6"/><circle cx="1174.8" cy="173.5" r="3.6"/><circle cx="1175.2" cy="169.5" r="3.6"/><circle cx="1177.9" cy="159.8" r="3.6"/><circle cx="1178.6" cy="153.3" r="3.6"/><circle cx="1180.7" cy="147.9" r="3.6"/><circle cx="1183.2" cy="144.3" r="3.6"/><circle cx="1190.3" cy="145.7" r="3.6"/><circle cx="1196.3" cy="146.7" r="3.6"/><circle cx="1200.5" cy="148.3" r="3.6"/><circle cx="1204.5" cy="156.2" r="3.6"/></g>
<g fill="none" stroke="#97c891" stroke-width="1.9"><circle cx="1162.3" cy="203.9" r="3.3"/></g>
<circle cx="1145.5" cy="119" r="5.0" fill="#97c891"/>
<circle cx="1145.5" cy="137.5" r="5.0" fill="#97c891"/>
<path d="M1207.6,327.5 L1207.6,180.0 L1212.0,183.0 L1216.0,190.0 L1220.0,193.5 L1223.0,200.0 L1226.0,205.0 L1228.0,215.0 L1230.0,227.0 L1228.0,235.0 L1232.0,245.0 L1236.0,252.0 L1241.7,256.0 L1246.0,250.0 L1249.0,240.0 L1252.0,228.0 L1253.0,215.0 L1252.0,202.0 L1257.0,195.0 L1262.0,185.0 L1264.3,172.0 L1265.3,158.0 L1270.0,156.0 L1275.0,152.0 L1278.0,150.0 L1280.0,160.0 L1281.0,166.0 L1281.0,327.5 Z" fill="#6699cc"/>
<g fill="#6699cc"><circle cx="1212.3" cy="187.4" r="3.6"/><circle cx="1216.8" cy="193.4" r="3.6"/><circle cx="1220.0" cy="196.8" r="3.6"/><circle cx="1222.0" cy="200.7" r="3.6"/><circle cx="1225.3" cy="207.4" r="3.6"/><circle cx="1226.6" cy="218.3" r="3.6"/><circle cx="1227.4" cy="223.6" r="3.6"/><circle cx="1227.5" cy="229.8" r="3.6"/><circle cx="1225.9" cy="235.9" r="3.6"/><circle cx="1232.2" cy="249.0" r="3.6"/><circle cx="1236.7" cy="255.0" r="3.6"/><circle cx="1243.6" cy="257.0" r="3.6"/><circle cx="1247.5" cy="248.8" r="3.6"/><circle cx="1251.3" cy="239.6" r="3.6"/><circle cx="1252.8" cy="233.8" r="3.6"/><circle cx="1254.1" cy="224.3" r="3.6"/><circle cx="1254.4" cy="220.1" r="3.6"/><circle cx="1255.0" cy="212.2" r="3.6"/><circle cx="1254.3" cy="205.9" r="3.6"/><circle cx="1253.2" cy="202.4" r="3.6"/><circle cx="1259.3" cy="195.2" r="3.6"/><circle cx="1261.7" cy="189.9" r="3.6"/><circle cx="1263.1" cy="185.1" r="3.6"/><circle cx="1265.4" cy="177.8" r="3.6"/><circle cx="1266.6" cy="169.2" r="3.6"/><circle cx="1266.7" cy="163.9" r="3.6"/><circle cx="1267.3" cy="159.0" r="3.6"/><circle cx="1271.9" cy="157.6" r="3.6"/><circle cx="1276.8" cy="153.9" r="3.6"/><circle cx="1278.0" cy="162.0" r="3.6"/></g>
<g fill="none" stroke="#6699cc" stroke-width="1.9"><circle cx="1230.1" cy="210.2" r="3.3"/><circle cx="1233.8" cy="234.9" r="3.3"/><circle cx="1244.2" cy="251.2" r="3.3"/><circle cx="1237.3" cy="252.8" r="3.3"/><circle cx="1244.0" cy="246.1" r="3.3"/><circle cx="1242.3" cy="234.3" r="3.3"/><circle cx="1243.6" cy="229.1" r="3.3"/><circle cx="1246.0" cy="215.4" r="3.3"/></g>
<circle cx="1209.3" cy="155" r="5.0" fill="#6699cc"/>
<circle cx="1230" cy="229" r="3.9999999999999996" fill="none" stroke="#6699cc" stroke-width="2"/>
<circle cx="1226" cy="236" r="3.9999999999999996" fill="none" stroke="#6699cc" stroke-width="2"/>
<path d="M1280.3,327.5 L1280.3,178.0 L1283.0,165.0 L1284.7,159.0 L1286.5,168.0 L1288.6,181.7 L1290.0,195.0 L1291.6,201.0 L1295.0,198.0 L1299.4,201.0 L1300.5,215.0 L1301.4,223.0 L1305.0,230.0 L1309.0,234.0 L1313.0,236.0 L1316.0,240.0 L1319.0,246.5 L1321.0,235.0 L1323.0,213.0 L1323.0,195.0 L1325.0,185.0 L1329.0,175.0 L1332.8,167.0 L1338.0,170.0 L1344.6,167.0 L1346.5,180.0 L1347.0,197.0 L1347.0,327.5 Z" fill="#c490c6"/>
<g fill="#c490c6"><circle cx="1285.8" cy="164.3" r="3.6"/><circle cx="1284.5" cy="171.0" r="3.6"/><circle cx="1286.3" cy="179.0" r="3.6"/><circle cx="1287.8" cy="184.7" r="3.6"/><circle cx="1287.9" cy="191.5" r="3.6"/><circle cx="1288.8" cy="198.2" r="3.6"/><circle cx="1292.9" cy="201.3" r="3.6"/><circle cx="1296.8" cy="200.7" r="3.6"/><circle cx="1298.0" cy="203.1" r="3.6"/><circle cx="1297.9" cy="209.4" r="3.6"/><circle cx="1299.6" cy="219.8" r="3.6"/><circle cx="1301.5" cy="226.4" r="3.6"/><circle cx="1305.2" cy="232.5" r="3.6"/><circle cx="1308.8" cy="235.3" r="3.6"/><circle cx="1311.4" cy="238.0" r="3.6"/><circle cx="1315.7" cy="242.5" r="3.6"/><circle cx="1322.1" cy="243.8" r="3.6"/><circle cx="1321.5" cy="239.4" r="3.6"/><circle cx="1322.2" cy="234.5" r="3.6"/><circle cx="1322.7" cy="228.5" r="3.6"/><circle cx="1323.5" cy="223.3" r="3.6"/><circle cx="1325.1" cy="216.8" r="3.6"/><circle cx="1324.7" cy="210.3" r="3.6"/><circle cx="1324.8" cy="205.5" r="3.6"/><circle cx="1324.5" cy="199.6" r="3.6"/><circle cx="1324.5" cy="194.9" r="3.6"/><circle cx="1328.4" cy="179.6" r="3.6"/><circle cx="1332.0" cy="173.4" r="3.6"/><circle cx="1334.8" cy="169.7" r="3.6"/><circle cx="1339.7" cy="170.8" r="3.6"/><circle cx="1343.1" cy="168.8" r="3.6"/><circle cx="1343.8" cy="177.6" r="3.6"/></g>
<g fill="none" stroke="#c490c6" stroke-width="1.9"><circle cx="1312.2" cy="233.1" r="3.3"/><circle cx="1324.7" cy="243.2" r="3.3"/><circle cx="1315.5" cy="244.4" r="3.3"/><circle cx="1315.5" cy="232.9" r="3.3"/><circle cx="1320.9" cy="202.2" r="3.3"/></g>
<circle cx="1312" cy="219" r="3.9999999999999996" fill="none" stroke="#c490c6" stroke-width="2"/>
<circle cx="1315" cy="236" r="3.9999999999999996" fill="none" stroke="#c490c6" stroke-width="2"/>
<path d="M1346.3,327.5 L1346.3,200.0 L1348.5,187.6 L1352.4,174.0 L1356.4,183.7 L1360.0,185.0 L1364.0,182.7 L1363.0,195.0 L1357.4,209.0 L1360.3,225.0 L1364.0,235.0 L1368.0,244.5 L1372.0,256.0 L1376.0,245.0 L1380.0,231.0 L1384.0,235.0 L1387.8,236.7 L1391.0,225.0 L1393.7,217.0 L1396.0,205.0 L1398.6,195.5 L1403.0,192.0 L1407.4,189.6 L1410.4,197.4 L1410.4,327.5 Z" fill="#ea5d69"/>
<g fill="#ea5d69"><circle cx="1350.9" cy="185.3" r="3.6"/><circle cx="1352.7" cy="180.3" r="3.6"/><circle cx="1353.4" cy="179.9" r="3.6"/><circle cx="1356.0" cy="185.2" r="3.6"/><circle cx="1362.1" cy="186.2" r="3.6"/><circle cx="1361.7" cy="183.2" r="3.6"/><circle cx="1361.5" cy="191.4" r="3.6"/><circle cx="1360.3" cy="194.9" r="3.6"/><circle cx="1357.5" cy="202.5" r="3.6"/><circle cx="1356.3" cy="210.3" r="3.6"/><circle cx="1358.1" cy="220.9" r="3.6"/><circle cx="1360.7" cy="231.3" r="3.6"/><circle cx="1363.2" cy="236.6" r="3.6"/><circle cx="1366.6" cy="246.6" r="3.6"/><circle cx="1370.0" cy="253.9" r="3.6"/><circle cx="1373.7" cy="255.2" r="3.6"/><circle cx="1376.3" cy="247.7" r="3.6"/><circle cx="1377.1" cy="245.1" r="3.6"/><circle cx="1380.8" cy="237.0" r="3.6"/><circle cx="1380.6" cy="234.7" r="3.6"/><circle cx="1385.3" cy="238.3" r="3.6"/><circle cx="1389.4" cy="235.9" r="3.6"/><circle cx="1392.4" cy="228.1" r="3.6"/><circle cx="1393.0" cy="225.5" r="3.6"/><circle cx="1395.5" cy="215.9" r="3.6"/><circle cx="1396.3" cy="210.0" r="3.6"/><circle cx="1397.4" cy="205.4" r="3.6"/><circle cx="1401.1" cy="196.7" r="3.6"/><circle cx="1404.5" cy="194.1" r="3.6"/><circle cx="1406.3" cy="191.1" r="3.6"/></g>
<g fill="none" stroke="#ea5d69" stroke-width="1.9"><circle cx="1367.8" cy="203.6" r="3.3"/><circle cx="1359.9" cy="209.1" r="3.3"/><circle cx="1374.6" cy="238.9" r="3.3"/><circle cx="1377.3" cy="244.8" r="3.3"/><circle cx="1370.9" cy="246.7" r="3.3"/><circle cx="1369.0" cy="242.9" r="3.3"/><circle cx="1383.4" cy="232.6" r="3.3"/></g>
<circle cx="1371" cy="160" r="5.0" fill="#ea5d69"/>
<circle cx="1376" cy="204" r="3.9999999999999996" fill="none" stroke="#ea5d69" stroke-width="2"/>
<circle cx="1368" cy="244" r="3.9999999999999996" fill="none" stroke="#ea5d69" stroke-width="2"/>
<path d="M1409.7,327.5 L1409.7,200.0 L1411.8,158.0 L1414.0,165.0 L1416.0,175.0 L1419.6,180.7 L1418.0,195.0 L1413.7,205.0 L1418.0,212.0 L1421.6,217.0 L1425.0,225.0 L1429.4,236.7 L1431.0,250.0 L1433.4,266.0 L1436.0,276.0 L1439.3,285.8 L1442.0,298.0 L1444.2,305.4 L1446.0,290.0 L1447.0,276.0 L1448.0,255.0 L1449.0,234.7 L1452.0,225.0 L1455.0,217.0 L1457.0,205.0 L1461.0,200.0 L1466.7,195.0 L1469.0,185.0 L1471.7,174.0 L1474.6,187.6 L1477.5,209.0 L1477.5,327.5 Z" fill="#f7c560"/>
<g fill="#f7c560"><circle cx="1413.6" cy="169.4" r="3.6"/><circle cx="1415.7" cy="179.4" r="3.6"/><circle cx="1418.3" cy="181.7" r="3.6"/><circle cx="1417.0" cy="188.1" r="3.6"/><circle cx="1414.6" cy="198.6" r="3.6"/><circle cx="1417.7" cy="215.1" r="3.6"/><circle cx="1421.0" cy="221.5" r="3.6"/><circle cx="1424.8" cy="227.8" r="3.6"/><circle cx="1426.9" cy="234.3" r="3.6"/><circle cx="1428.1" cy="239.2" r="3.6"/><circle cx="1429.2" cy="246.5" r="3.6"/><circle cx="1429.8" cy="251.4" r="3.6"/><circle cx="1429.9" cy="259.1" r="3.6"/><circle cx="1432.8" cy="269.9" r="3.6"/><circle cx="1434.3" cy="279.2" r="3.6"/><circle cx="1438.4" cy="288.0" r="3.6"/><circle cx="1439.3" cy="295.3" r="3.6"/><circle cx="1442.2" cy="302.7" r="3.6"/><circle cx="1446.8" cy="303.5" r="3.6"/><circle cx="1448.0" cy="294.1" r="3.6"/><circle cx="1447.5" cy="289.9" r="3.6"/><circle cx="1447.8" cy="282.6" r="3.6"/><circle cx="1449.1" cy="272.0" r="3.6"/><circle cx="1449.1" cy="265.2" r="3.6"/><circle cx="1449.6" cy="258.4" r="3.6"/><circle cx="1450.3" cy="254.1" r="3.6"/><circle cx="1449.7" cy="244.5" r="3.6"/><circle cx="1450.8" cy="239.1" r="3.6"/><circle cx="1450.9" cy="233.9" r="3.6"/><circle cx="1453.5" cy="224.8" r="3.6"/><circle cx="1457.1" cy="216.4" r="3.6"/><circle cx="1457.7" cy="208.9" r="3.6"/><circle cx="1458.2" cy="205.9" r="3.6"/><circle cx="1464.2" cy="198.9" r="3.6"/><circle cx="1468.4" cy="193.4" r="3.6"/><circle cx="1471.5" cy="182.8" r="3.6"/><circle cx="1471.5" cy="179.6" r="3.6"/><circle cx="1470.2" cy="176.0" r="3.6"/><circle cx="1472.6" cy="183.6" r="3.6"/><circle cx="1472.6" cy="188.6" r="3.6"/><circle cx="1474.4" cy="196.7" r="3.6"/><circle cx="1474.2" cy="203.5" r="3.6"/></g>
<g fill="none" stroke="#f7c560" stroke-width="1.9"><circle cx="1427.7" cy="226.2" r="3.3"/><circle cx="1437.0" cy="259.3" r="3.3"/><circle cx="1439.6" cy="267.4" r="3.3"/><circle cx="1448.1" cy="290.1" r="3.3"/><circle cx="1450.5" cy="296.5" r="3.3"/><circle cx="1435.9" cy="303.6" r="3.3"/><circle cx="1440.6" cy="276.9" r="3.3"/><circle cx="1444.2" cy="259.3" r="3.3"/><circle cx="1440.1" cy="257.9" r="3.3"/><circle cx="1442.4" cy="271.2" r="3.3"/><circle cx="1444.4" cy="252.3" r="3.3"/><circle cx="1446.8" cy="217.9" r="3.3"/><circle cx="1453.9" cy="206.5" r="3.3"/></g>
<circle cx="1471.7" cy="174" r="5.0" fill="#f7c560"/>
<circle cx="1455" cy="190.5" r="3.9999999999999996" fill="none" stroke="#f7c560" stroke-width="2"/>
<circle cx="1466.7" cy="189.6" r="3.9999999999999996" fill="none" stroke="#f7c560" stroke-width="2"/>
<circle cx="1449" cy="234" r="3.9999999999999996" fill="none" stroke="#f7c560" stroke-width="2"/>
<circle cx="1433" cy="262" r="3.9999999999999996" fill="none" stroke="#f7c560" stroke-width="2"/>
<path d="M1476.8,327.5 L1476.8,209.0 L1479.0,180.0 L1480.5,154.0 L1484.0,158.0 L1486.4,162.0 L1488.0,175.0 L1488.3,185.6 L1486.0,195.0 L1484.4,201.3 L1489.0,208.0 L1494.2,215.0 L1497.0,225.0 L1500.0,236.7 L1503.0,244.0 L1506.0,250.4 L1510.0,252.0 L1513.9,248.5 L1517.0,243.0 L1519.7,236.7 L1521.0,225.0 L1521.7,217.0 L1522.0,195.0 L1523.7,172.0 L1527.0,160.0 L1531.5,152.0 L1534.0,165.0 L1535.5,197.4 L1537.4,200.0 L1537.4,327.5 Z" fill="#97c891"/>
<g fill="#97c891"><circle cx="1480.5" cy="194.9" r="3.6"/><circle cx="1480.7" cy="179.6" r="3.6"/><circle cx="1481.1" cy="173.2" r="3.6"/><circle cx="1480.9" cy="165.1" r="3.6"/><circle cx="1481.4" cy="158.1" r="3.6"/><circle cx="1483.8" cy="159.8" r="3.6"/><circle cx="1485.0" cy="164.2" r="3.6"/><circle cx="1486.4" cy="172.4" r="3.6"/><circle cx="1485.6" cy="180.5" r="3.6"/><circle cx="1485.1" cy="189.2" r="3.6"/><circle cx="1483.3" cy="195.1" r="3.6"/><circle cx="1483.7" cy="204.7" r="3.6"/><circle cx="1490.8" cy="212.6" r="3.6"/><circle cx="1493.1" cy="220.4" r="3.6"/><circle cx="1495.5" cy="225.6" r="3.6"/><circle cx="1498.0" cy="233.8" r="3.6"/><circle cx="1500.3" cy="241.2" r="3.6"/><circle cx="1503.4" cy="247.7" r="3.6"/><circle cx="1506.3" cy="253.2" r="3.6"/><circle cx="1511.4" cy="252.6" r="3.6"/><circle cx="1516.2" cy="247.6" r="3.6"/><circle cx="1518.2" cy="243.4" r="3.6"/><circle cx="1522.2" cy="236.4" r="3.6"/><circle cx="1523.0" cy="228.7" r="3.6"/><circle cx="1523.3" cy="224.4" r="3.6"/><circle cx="1523.6" cy="216.6" r="3.6"/><circle cx="1523.4" cy="209.4" r="3.6"/><circle cx="1523.8" cy="203.1" r="3.6"/><circle cx="1524.4" cy="198.6" r="3.6"/><circle cx="1524.6" cy="194.8" r="3.6"/><circle cx="1524.2" cy="187.2" r="3.6"/><circle cx="1524.5" cy="180.9" r="3.6"/><circle cx="1525.4" cy="174.5" r="3.6"/><circle cx="1526.2" cy="171.3" r="3.6"/><circle cx="1527.0" cy="164.7" r="3.6"/><circle cx="1529.9" cy="157.0" r="3.6"/><circle cx="1530.7" cy="155.5" r="3.6"/><circle cx="1530.7" cy="161.5" r="3.6"/><circle cx="1532.0" cy="167.4" r="3.6"/><circle cx="1533.4" cy="172.7" r="3.6"/><circle cx="1533.4" cy="178.1" r="3.6"/><circle cx="1533.3" cy="186.9" r="3.6"/><circle cx="1532.9" cy="193.0" r="3.6"/></g>
<g fill="none" stroke="#97c891" stroke-width="1.9"><circle cx="1490.2" cy="198.3" r="3.3"/><circle cx="1499.8" cy="227.6" r="3.3"/><circle cx="1509.6" cy="246.0" r="3.3"/><circle cx="1514.7" cy="242.4" r="3.3"/><circle cx="1517.6" cy="233.7" r="3.3"/><circle cx="1513.3" cy="204.8" r="3.3"/><circle cx="1515.5" cy="212.5" r="3.3"/></g>
<circle cx="1500" cy="236" r="3.9999999999999996" fill="none" stroke="#97c891" stroke-width="2"/>
<circle cx="1512" cy="248" r="3.9999999999999996" fill="none" stroke="#97c891" stroke-width="2"/>
<path d="M1536.7,327.5 L1536.7,200.0 L1539.8,176.0 L1543.7,163.0 L1546.0,175.0 L1548.6,185.6 L1549.6,200.4 L1546.0,210.0 L1543.7,217.0 L1546.0,226.0 L1549.6,236.7 L1550.5,246.0 L1551.6,256.3 L1556.0,258.0 L1561.4,260.0 L1562.0,270.0 L1563.4,280.0 L1565.0,292.0 L1566.3,301.5 L1568.0,295.0 L1571.2,276.0 L1574.0,268.0 L1577.0,260.0 L1578.0,240.0 L1578.0,217.0 L1580.0,200.0 L1582.0,189.6 L1581.0,176.8 L1585.0,178.0 L1589.0,179.7 L1591.0,165.0 L1592.8,157.0 L1596.0,160.0 L1599.7,163.0 L1600.0,175.0 L1600.0,327.5 Z" fill="#6699cc"/>
<g fill="#6699cc"><circle cx="1541.6" cy="179.5" r="3.6"/><circle cx="1542.8" cy="173.3" r="3.6"/><circle cx="1543.9" cy="169.0" r="3.6"/><circle cx="1541.8" cy="165.0" r="3.6"/><circle cx="1543.8" cy="171.2" r="3.6"/><circle cx="1544.5" cy="179.7" r="3.6"/><circle cx="1546.3" cy="186.7" r="3.6"/><circle cx="1547.7" cy="193.2" r="3.6"/><circle cx="1547.0" cy="201.0" r="3.6"/><circle cx="1542.6" cy="213.3" r="3.6"/><circle cx="1541.8" cy="219.4" r="3.6"/><circle cx="1545.0" cy="227.5" r="3.6"/><circle cx="1546.9" cy="234.9" r="3.6"/><circle cx="1547.9" cy="240.8" r="3.6"/><circle cx="1549.4" cy="252.2" r="3.6"/><circle cx="1553.1" cy="259.1" r="3.6"/><circle cx="1558.2" cy="260.6" r="3.6"/><circle cx="1559.8" cy="264.5" r="3.6"/><circle cx="1560.9" cy="272.0" r="3.6"/><circle cx="1562.6" cy="282.4" r="3.6"/><circle cx="1563.4" cy="289.4" r="3.6"/><circle cx="1563.9" cy="292.3" r="3.6"/><circle cx="1568.7" cy="298.3" r="3.6"/><circle cx="1569.1" cy="294.6" r="3.6"/><circle cx="1571.2" cy="288.9" r="3.6"/><circle cx="1572.6" cy="280.3" r="3.6"/><circle cx="1573.5" cy="272.8" r="3.6"/><circle cx="1576.5" cy="265.7" r="3.6"/><circle cx="1579.5" cy="256.8" r="3.6"/><circle cx="1578.6" cy="249.8" r="3.6"/><circle cx="1580.3" cy="243.3" r="3.6"/><circle cx="1579.2" cy="236.7" r="3.6"/><circle cx="1579.2" cy="233.5" r="3.6"/><circle cx="1580.4" cy="228.4" r="3.6"/><circle cx="1580.0" cy="219.9" r="3.6"/><circle cx="1580.3" cy="214.4" r="3.6"/><circle cx="1579.9" cy="210.5" r="3.6"/><circle cx="1581.6" cy="205.6" r="3.6"/><circle cx="1581.7" cy="199.0" r="3.6"/><circle cx="1582.9" cy="187.9" r="3.6"/><circle cx="1582.9" cy="182.1" r="3.6"/><circle cx="1582.3" cy="178.8" r="3.6"/><circle cx="1584.8" cy="180.7" r="3.6"/><circle cx="1591.6" cy="177.8" r="3.6"/><circle cx="1591.4" cy="169.8" r="3.6"/><circle cx="1593.1" cy="163.4" r="3.6"/><circle cx="1593.2" cy="159.5" r="3.6"/><circle cx="1596.4" cy="162.7" r="3.6"/></g>
<g fill="none" stroke="#6699cc" stroke-width="1.9"><circle cx="1556.7" cy="238.0" r="3.3"/><circle cx="1557.0" cy="246.4" r="3.3"/><circle cx="1557.5" cy="251.2" r="3.3"/><circle cx="1567.3" cy="273.4" r="3.3"/><circle cx="1567.0" cy="290.4" r="3.3"/><circle cx="1573.6" cy="293.4" r="3.3"/><circle cx="1567.2" cy="277.6" r="3.3"/><circle cx="1562.5" cy="283.7" r="3.3"/><circle cx="1572.1" cy="264.3" r="3.3"/><circle cx="1570.6" cy="229.9" r="3.3"/><circle cx="1569.8" cy="229.4" r="3.3"/><circle cx="1574.3" cy="213.3" r="3.3"/></g>
<circle cx="1558.5" cy="234.7" r="3.9999999999999996" fill="none" stroke="#6699cc" stroke-width="2"/>
<circle cx="1562.4" cy="241.6" r="3.9999999999999996" fill="none" stroke="#6699cc" stroke-width="2"/>
<path d="M1600.0,327.5 L1600.0,189.6 L1604.0,180.0 L1608.5,172.9 L1612.0,185.0 L1616.4,197.4 L1614.0,208.0 L1612.5,217.0 L1616.4,223.0 L1619.0,230.0 L1622.3,238.6 L1628.0,242.6 L1632.0,250.4 L1635.0,246.0 L1638.0,244.5 L1639.0,230.0 L1640.0,217.0 L1643.0,213.0 L1645.8,210.0 L1651.7,205.3 L1652.0,195.0 L1653.7,187.6 L1656.0,178.0 L1658.6,172.9 L1661.0,180.0 L1663.5,187.6 L1665.0,200.0 L1666.4,217.0 L1666.4,327.5 Z" fill="#c490c6"/>
<g fill="#c490c6"><circle cx="1603.7" cy="184.4" r="3.6"/><circle cx="1607.2" cy="179.7" r="3.6"/><circle cx="1607.2" cy="176.4" r="3.6"/><circle cx="1609.4" cy="180.9" r="3.6"/><circle cx="1611.7" cy="187.8" r="3.6"/><circle cx="1612.9" cy="192.5" r="3.6"/><circle cx="1614.8" cy="197.3" r="3.6"/><circle cx="1611.2" cy="211.9" r="3.6"/><circle cx="1612.0" cy="219.9" r="3.6"/><circle cx="1616.0" cy="225.4" r="3.6"/><circle cx="1618.7" cy="233.7" r="3.6"/><circle cx="1623.4" cy="242.4" r="3.6"/><circle cx="1627.3" cy="245.5" r="3.6"/><circle cx="1634.7" cy="249.4" r="3.6"/><circle cx="1636.4" cy="247.7" r="3.6"/><circle cx="1640.5" cy="240.8" r="3.6"/><circle cx="1641.1" cy="234.4" r="3.6"/><circle cx="1641.2" cy="227.5" r="3.6"/><circle cx="1641.1" cy="221.8" r="3.6"/><circle cx="1642.1" cy="216.2" r="3.6"/><circle cx="1645.4" cy="213.8" r="3.6"/><circle cx="1649.6" cy="209.6" r="3.6"/><circle cx="1653.4" cy="203.8" r="3.6"/><circle cx="1654.4" cy="193.4" r="3.6"/><circle cx="1656.3" cy="185.7" r="3.6"/><circle cx="1658.6" cy="175.7" r="3.6"/><circle cx="1657.4" cy="176.4" r="3.6"/><circle cx="1659.9" cy="182.3" r="3.6"/><circle cx="1662.9" cy="191.4" r="3.6"/><circle cx="1663.2" cy="196.0" r="3.6"/><circle cx="1662.7" cy="202.9" r="3.6"/></g>
<g fill="none" stroke="#c490c6" stroke-width="1.9"><circle cx="1617.7" cy="214.9" r="3.3"/><circle cx="1623.2" cy="228.3" r="3.3"/><circle cx="1624.4" cy="230.6" r="3.3"/><circle cx="1627.5" cy="236.2" r="3.3"/><circle cx="1629.8" cy="247.2" r="3.3"/><circle cx="1635.1" cy="219.2" r="3.3"/><circle cx="1631.7" cy="227.7" r="3.3"/></g>
<circle cx="1635" cy="175.8" r="3.9999999999999996" fill="none" stroke="#c490c6" stroke-width="2"/>
<circle cx="1636" cy="188.6" r="3.9999999999999996" fill="none" stroke="#c490c6" stroke-width="2"/>
<circle cx="1630" cy="208" r="3.9999999999999996" fill="none" stroke="#c490c6" stroke-width="2"/>
<path d="M1006.5,212 L1007.5,235 L1006.8,250 M1007.6,262 L1008,270 L1007.2,290" fill="none" stroke="#fff" stroke-width="0.9" opacity="0.85"/>
<g fill="#fff" stroke="#f7c560" stroke-width="1.8"><circle cx="1084" cy="247" r="2.9"/><circle cx="1090" cy="249" r="2.9"/><circle cx="1086" cy="258" r="2.9"/><circle cx="1092" cy="262" r="2.9"/><circle cx="1083" cy="270" r="2.9"/><circle cx="1089" cy="276" r="2.9"/><circle cx="1085" cy="287" r="2.9"/><circle cx="1091" cy="294" r="2.9"/></g>
<rect x="944" y="66.5" width="747.5" height="267.5" fill="none" stroke="#333" stroke-width="1.6"/>
<line x1="944" y1="137.2" x2="1691.5" y2="137.2" stroke="#999" stroke-width="1.3"/>
<text transform="translate(929,81.6) rotate(-90)" class="t22" text-anchor="middle">8</text>
<text transform="translate(929,143.5) rotate(-90)" class="t22" text-anchor="middle">6</text>
<text transform="translate(929,206.8) rotate(-90)" class="t22" text-anchor="middle">4</text>
<text transform="translate(929,273) rotate(-90)" class="t22" text-anchor="middle">2</text>
<text transform="translate(889,193) rotate(-90)" class="t22" text-anchor="middle">-Log<tspan font-size="15" dy="4">10</tspan><tspan dy="-4"> (</tspan><tspan font-style="italic">P</tspan>-value)</text>
<text x="1007.4" y="362" class="t22" text-anchor="middle">1</text>
<text x="1091" y="362" class="t22" text-anchor="middle">2</text>
<text x="1175" y="362" class="t22" text-anchor="middle">3</text>
<text x="1245.7" y="362" class="t22" text-anchor="middle">4</text>
<text x="1316" y="362" class="t22" text-anchor="middle">5</text>
<text x="1380" y="362" class="t22" text-anchor="middle">6</text>
<text x="1445.6" y="362" class="t22" text-anchor="middle">7</text>
<text x="1510" y="362" class="t22" text-anchor="middle">8</text>
<text x="1568.7" y="362" class="t22" text-anchor="middle">9</text>
<text x="1631.5" y="362" class="t22" text-anchor="middle">10</text>
<text x="1032" y="49.7" class="t22" font-weight="bold" font-style="italic">GC1</text>
<line x1="1049" y1="56.5" x2="1036" y2="69" stroke="#000" stroke-width="2.2"/>
<path d="M1030.5,74.5 L1033,64.8 L1040.5,72 Z" fill="#000"/>
<rect x="187.5" y="1108" width="28.099999999999994" height="292.5" fill="#f0f0f0"/>
<rect x="271.3" y="1108" width="33.69999999999999" height="292.5" fill="#f0f0f0"/>
<rect x="358.7" y="1108" width="35.10000000000002" height="292.5" fill="#f0f0f0"/>
<rect x="427" y="1108" width="86" height="292.5" fill="#f0f0f0"/>
<path d="M157.7,1066.6 H163.6 V1175.9 M157.7,1103 H163.6 M157.7,1138.8 H163.6 M157.7,1175.9 H533.6" fill="none" stroke="#000" stroke-width="2.2"/>
<text x="144.4" y="1073.6" class="t22" text-anchor="end">30</text>
<text x="144.4" y="1110" class="t22" text-anchor="end">20</text>
<text x="144.4" y="1145.8" class="t22" text-anchor="end">10</text>
<text x="144.4" y="1182.2" class="t22" text-anchor="end">0</text>
<text x="199.7" y="1200.7" class="t22" text-anchor="middle">123</text>
<text x="287.8" y="1200.7" class="t22" text-anchor="middle">123</text>
<text x="375.6" y="1200.7" class="t22" text-anchor="middle">123</text>
<text x="440.2" y="1200.7" class="t22" text-anchor="middle">123</text>
<text x="496.5" y="1200.7" class="t22" text-anchor="middle">123</text>
<text x="547" y="1200.7" class="t22">Stage</text>
<rect x="541" y="1114.6" width="24" height="11" fill="#404040"/>
<rect x="541" y="1135.5" width="24" height="11" fill="#c55a11"/>
<text x="576" y="1128.5" class="t22">SN010</text>
<text x="576" y="1150" class="t22">M81-E</text>
<text transform="translate(87,1126.5) rotate(-90)" style="font-size:23.1px" text-anchor="middle">Relative expression</text>
<rect x="188.25" y="1174.8" width="3.5" height="0.4" fill="#404040"/>
<rect x="192.25" y="1174.8" width="3.5" height="0.4" fill="#c55a11"/>
<rect x="198.25" y="1174.8" width="3.5" height="0.4" fill="#404040"/>
<rect x="202.25" y="1174.8" width="3.5" height="0.4" fill="#c55a11"/>
<rect x="207.25" y="1174.8" width="3.5" height="0.4" fill="#404040"/>
<rect x="274.25" y="1174.5" width="3.5" height="0.7" fill="#404040"/>
<rect x="278.25" y="1174.5" width="3.5" height="0.7" fill="#c55a11"/>
<rect x="285.25" y="1173.8" width="3.5" height="1.4" fill="#404040"/>
<rect x="289.25" y="1174.1" width="3.5" height="1.1" fill="#c55a11"/>
<rect x="295.25" y="1174.5" width="3.5" height="0.7" fill="#404040"/>
<rect x="360.25" y="1173.8" width="3.5" height="1.4" fill="#404040"/>
<rect x="364.25" y="1173.8" width="3.5" height="1.4" fill="#c55a11"/>
<rect x="368.25" y="1173.8" width="3.5" height="1.4" fill="#404040"/>
<rect x="373.85" y="1157.1" width="3.5" height="18.1" fill="#404040"/>
<path d="M375.6,1157.1 V1154.2 M373.40000000000003,1154.2 H377.8" stroke="#222" stroke-width="1.2" fill="none"/>
<rect x="377.85" y="1171.6" width="3.5" height="3.6" fill="#c55a11"/>
<path d="M379.6,1171.6 V1170.1 M377.40000000000003,1170.1 H381.8" stroke="#222" stroke-width="1.2" fill="none"/>
<rect x="383.25" y="1174.1" width="3.5" height="1.1" fill="#404040"/>
<rect x="387.25" y="1174.1" width="3.5" height="1.1" fill="#c55a11"/>
<rect x="428.55" y="1124.5" width="3.5" height="50.7" fill="#404040"/>
<path d="M430.3,1124.5 V1113.7 M428.1,1113.7 H432.5" stroke="#222" stroke-width="1.2" fill="none"/>
<rect x="432.45" y="1142.6" width="3.5" height="32.6" fill="#c55a11"/>
<path d="M434.2,1142.6 V1137.2 M432.0,1137.2 H436.4" stroke="#222" stroke-width="1.2" fill="none"/>
<rect x="439.15" y="1095.6" width="3.5" height="79.6" fill="#404040"/>
<path d="M440.9,1095.6 V1088.3 M438.7,1088.3 H443.09999999999997" stroke="#222" stroke-width="1.2" fill="none"/>
<rect x="443.45" y="1119.1" width="3.5" height="56.1" fill="#c55a11"/>
<path d="M445.2,1119.1 V1115.5 M443.0,1115.5 H447.4" stroke="#222" stroke-width="1.2" fill="none"/>
<rect x="450.05" y="1148.0" width="3.5" height="27.2" fill="#404040"/>
<path d="M451.8,1148.0 V1142.6 M449.6,1142.6 H454.0" stroke="#222" stroke-width="1.2" fill="none"/>
<rect x="454.35" y="1158.9" width="3.5" height="16.3" fill="#c55a11"/>
<path d="M456.1,1158.9 V1151.7 M453.90000000000003,1151.7 H458.3" stroke="#222" stroke-width="1.2" fill="none"/>
<rect x="482.85" y="1170.9" width="3.5" height="4.3" fill="#404040"/>
<rect x="486.75" y="1170.5" width="3.5" height="4.7" fill="#c55a11"/>
<rect x="493.75" y="1169.4" width="3.5" height="5.8" fill="#404040"/>
<rect x="497.65" y="1168.7" width="3.5" height="6.5" fill="#c55a11"/>
<rect x="505.35" y="1120.9" width="3.5" height="54.3" fill="#404040"/>
<path d="M507.1,1120.9 V1104.6 M504.90000000000003,1104.6 H509.3" stroke="#222" stroke-width="1.2" fill="none"/>
<rect x="509.25" y="1137.2" width="3.5" height="38.0" fill="#c55a11"/>
<path d="M511,1137.2 V1127.1 M508.8,1127.1 H513.2" stroke="#222" stroke-width="1.2" fill="none"/>
<path d="M158,1252.3 H164.3 V1393.8 M158,1287.8 H164.3 M158,1323.2 H164.3 M158,1359 H164.3 M151,1393.8 H517" fill="none" stroke="#000" stroke-width="2.2"/>
<text x="144.4" y="1259.3" class="t22" text-anchor="end">40</text>
<text x="144.4" y="1294.8" class="t22" text-anchor="end">30</text>
<text x="144.4" y="1330.2" class="t22" text-anchor="end">20</text>
<text x="144.4" y="1366" class="t22" text-anchor="end">10</text>
<text x="144.4" y="1400.8" class="t22" text-anchor="end">0</text>
<text transform="translate(88,1325) rotate(-90)" style="font-size:22.8px" text-anchor="middle">-Log<tspan font-size="14.5" dy="4">10</tspan><tspan dy="-4"> (</tspan><tspan font-style="italic">P</tspan>-value)</text>
<g fill="#3f3f3f">
<circle cx="236.1" cy="1323.7" r="3.8"/>
<circle cx="240" cy="1323.7" r="3.8"/>
<circle cx="227.3" cy="1335.3" r="3.8"/>
<circle cx="232.3" cy="1335.3" r="3.8"/>
<circle cx="190.3" cy="1335.3" r="3.8"/>
<circle cx="173.8" cy="1343.6" r="3.8"/>
<circle cx="179.8" cy="1343.6" r="3.8"/>
<circle cx="184.3" cy="1351.3" r="3.8"/>
<circle cx="178.7" cy="1356.3" r="3.8"/>
<circle cx="183.7" cy="1356.3" r="3.8"/>
<circle cx="188.7" cy="1364" r="3.8"/>
<circle cx="170.5" cy="1372.3" r="3.8"/>
<circle cx="200.3" cy="1374.5" r="3.8"/>
<circle cx="166" cy="1379.5" r="3.8"/>
<circle cx="169.4" cy="1383.9" r="3.8"/>
<circle cx="173.8" cy="1387.2" r="3.8"/>
<circle cx="177.1" cy="1385" r="3.8"/>
<circle cx="180.4" cy="1388.3" r="3.8"/>
<circle cx="185.9" cy="1379.5" r="3.8"/>
<circle cx="191.4" cy="1380.6" r="3.8"/>
<circle cx="195.8" cy="1383.9" r="3.8"/>
<circle cx="199.2" cy="1388.3" r="3.8"/>
<circle cx="202.5" cy="1393.8" r="3.8"/>
<circle cx="208" cy="1395" r="3.8"/>
<circle cx="212.4" cy="1393.8" r="3.8"/>
<circle cx="215.7" cy="1383.9" r="3.8"/>
<circle cx="219" cy="1377.3" r="3.8"/>
<circle cx="223.4" cy="1377.3" r="3.8"/>
<circle cx="226.8" cy="1383.9" r="3.8"/>
<circle cx="231.2" cy="1379.5" r="3.8"/>
<circle cx="230.1" cy="1391.6" r="3.8"/>
<circle cx="166" cy="1390" r="3.8"/>
<circle cx="171" cy="1391" r="3.8"/>
<circle cx="186" cy="1391" r="3.8"/>
<circle cx="193" cy="1392" r="3.8"/>
<circle cx="205" cy="1390" r="3.8"/>
<circle cx="220" cy="1390" r="3.8"/>
<circle cx="236.1" cy="1355.8" r="3.8"/>
<circle cx="236.7" cy="1366.8" r="3.8"/>
<circle cx="242.2" cy="1359.6" r="3.8"/>
<circle cx="244.4" cy="1362.9" r="3.8"/>
<circle cx="246.6" cy="1367.3" r="3.8"/>
<circle cx="248.8" cy="1371.8" r="3.8"/>
<circle cx="238.9" cy="1391.6" r="3.8"/>
<circle cx="242.2" cy="1393.3" r="3.8"/>
<circle cx="246.6" cy="1343.6" r="3.8"/>
<circle cx="252.2" cy="1343.6" r="3.8"/>
<circle cx="258.2" cy="1343.6" r="3.8"/>
<circle cx="252.2" cy="1350.8" r="3.8"/>
<circle cx="256.6" cy="1351.9" r="3.8"/>
<circle cx="261" cy="1350.8" r="3.8"/>
<circle cx="266.5" cy="1350.8" r="3.8"/>
<circle cx="272" cy="1350.8" r="3.8"/>
<circle cx="274.2" cy="1351.9" r="3.8"/>
<circle cx="257.7" cy="1355.2" r="3.8"/>
<circle cx="263.2" cy="1356.3" r="3.8"/>
<circle cx="268.7" cy="1357.4" r="3.8"/>
<circle cx="274.2" cy="1356.3" r="3.8"/>
<circle cx="255.5" cy="1360.2" r="3.8"/>
<circle cx="267.6" cy="1361.3" r="3.8"/>
<circle cx="265.4" cy="1377.3" r="3.8"/>
<circle cx="268.2" cy="1384.5" r="3.8"/>
<circle cx="276.4" cy="1386.1" r="3.8"/>
<circle cx="277.5" cy="1393.8" r="3.8"/>
<circle cx="275.3" cy="1368.4" r="3.8"/>
<circle cx="280.9" cy="1365.1" r="3.8"/>
<circle cx="286.4" cy="1361.8" r="3.8"/>
<circle cx="291.9" cy="1359.6" r="3.8"/>
<circle cx="277.5" cy="1375.1" r="3.8"/>
<circle cx="286.4" cy="1371.8" r="3.8"/>
<circle cx="290.8" cy="1375.1" r="3.8"/>
<circle cx="288.6" cy="1369.6" r="3.8"/>
<circle cx="288.6" cy="1350.8" r="3.8"/>
<circle cx="294.1" cy="1350.8" r="3.8"/>
<circle cx="301.8" cy="1350.8" r="3.8"/>
<circle cx="314" cy="1350.8" r="3.8"/>
<circle cx="291.9" cy="1357.4" r="3.8"/>
<circle cx="298.5" cy="1356.3" r="3.8"/>
<circle cx="305.1" cy="1358.5" r="3.8"/>
<circle cx="312.9" cy="1356.3" r="3.8"/>
<circle cx="298.5" cy="1364" r="3.8"/>
<circle cx="305.1" cy="1367.3" r="3.8"/>
<circle cx="311.8" cy="1368.4" r="3.8"/>
<circle cx="318.4" cy="1370.7" r="3.8"/>
<circle cx="309.6" cy="1335.3" r="3.8"/>
<circle cx="302.4" cy="1388.3" r="3.8"/>
<circle cx="316.2" cy="1387.2" r="3.8"/>
<circle cx="320.6" cy="1390.5" r="3.8"/>
<circle cx="325" cy="1392.7" r="3.8"/>
<circle cx="328.3" cy="1391.6" r="3.8"/>
<circle cx="337.2" cy="1391.6" r="3.8"/>
<circle cx="342.7" cy="1390.5" r="3.8"/>
<circle cx="327.2" cy="1350.8" r="3.8"/>
<circle cx="332.7" cy="1351.9" r="3.8"/>
<circle cx="338.3" cy="1355.2" r="3.8"/>
<circle cx="342.7" cy="1357.4" r="3.8"/>
<circle cx="329.4" cy="1360.7" r="3.8"/>
<circle cx="331.6" cy="1365.1" r="3.8"/>
<circle cx="337.2" cy="1361.8" r="3.8"/>
<circle cx="340.5" cy="1343.6" r="3.8"/>
<circle cx="343.8" cy="1343.6" r="3.8"/>
<circle cx="376.4" cy="1307.2" r="3.8"/>
<circle cx="387.5" cy="1306.6" r="3.8"/>
<circle cx="385.3" cy="1323.7" r="3.8"/>
<circle cx="380.8" cy="1332" r="3.8"/>
<circle cx="386.4" cy="1332" r="3.8"/>
<circle cx="390.8" cy="1332.6" r="3.8"/>
<circle cx="392.4" cy="1342.5" r="3.8"/>
<circle cx="352.1" cy="1334.2" r="3.8"/>
<circle cx="356.6" cy="1334.2" r="3.8"/>
<circle cx="342.2" cy="1343.6" r="3.8"/>
<circle cx="352.1" cy="1343.6" r="3.8"/>
<circle cx="357.7" cy="1344.2" r="3.8"/>
<circle cx="359.3" cy="1343.6" r="3.8"/>
<circle cx="346.6" cy="1350.8" r="3.8"/>
<circle cx="354.4" cy="1349.7" r="3.8"/>
<circle cx="357.7" cy="1351.9" r="3.8"/>
<circle cx="343.3" cy="1356.3" r="3.8"/>
<circle cx="348.8" cy="1355.8" r="3.8"/>
<circle cx="357.7" cy="1356.9" r="3.8"/>
<circle cx="369.3" cy="1343.6" r="3.8"/>
<circle cx="375.3" cy="1342.5" r="3.8"/>
<circle cx="380.3" cy="1342" r="3.8"/>
<circle cx="369.8" cy="1350.8" r="3.8"/>
<circle cx="373.1" cy="1348.6" r="3.8"/>
<circle cx="353.2" cy="1368.4" r="3.8"/>
<circle cx="378.6" cy="1371.2" r="3.8"/>
<circle cx="348.3" cy="1381.7" r="3.8"/>
<circle cx="364.8" cy="1379.5" r="3.8"/>
<circle cx="344.4" cy="1389.4" r="3.8"/>
<circle cx="344.4" cy="1392.7" r="3.8"/>
<circle cx="359.9" cy="1391.6" r="3.8"/>
<circle cx="364.3" cy="1388.3" r="3.8"/>
<circle cx="368.7" cy="1391.6" r="3.8"/>
<circle cx="395.2" cy="1356.3" r="3.8"/>
<circle cx="401.8" cy="1356.3" r="3.8"/>
<circle cx="406.2" cy="1356.3" r="3.8"/>
<circle cx="410.7" cy="1356.3" r="3.8"/>
<circle cx="403.5" cy="1369" r="3.8"/>
<circle cx="416.7" cy="1344.2" r="3.8"/>
<circle cx="417.3" cy="1350.8" r="3.8"/>
<circle cx="423.9" cy="1356.3" r="3.8"/>
<circle cx="425" cy="1361.8" r="3.8"/>
<circle cx="421.7" cy="1366.2" r="3.8"/>
<circle cx="415.1" cy="1360.7" r="3.8"/>
<circle cx="409.6" cy="1377.8" r="3.8"/>
<circle cx="412.9" cy="1382.8" r="3.8"/>
<circle cx="415.1" cy="1387.2" r="3.8"/>
<circle cx="417.3" cy="1389.4" r="3.8"/>
<circle cx="393" cy="1391.6" r="3.8"/>
<circle cx="398.5" cy="1394.9" r="3.8"/>
<circle cx="404" cy="1390.5" r="3.8"/>
<circle cx="408.4" cy="1392.7" r="3.8"/>
<circle cx="426.1" cy="1332" r="3.8"/>
<circle cx="431.6" cy="1332" r="3.8"/>
<circle cx="437.2" cy="1332" r="3.8"/>
<circle cx="442.7" cy="1332" r="3.8"/>
<circle cx="448.2" cy="1332" r="3.8"/>
<circle cx="454.8" cy="1332" r="3.8"/>
<circle cx="429.4" cy="1339.2" r="3.8"/>
<circle cx="428.3" cy="1346.4" r="3.8"/>
<circle cx="431.6" cy="1346.4" r="3.8"/>
<circle cx="438.8" cy="1342.5" r="3.8"/>
<circle cx="449.3" cy="1346.4" r="3.8"/>
<circle cx="453.7" cy="1346.4" r="3.8"/>
<circle cx="458.7" cy="1346.4" r="3.8"/>
<circle cx="433.8" cy="1379.5" r="3.8"/>
<circle cx="439.4" cy="1378.4" r="3.8"/>
<circle cx="441.6" cy="1383.9" r="3.8"/>
<circle cx="433.8" cy="1391.6" r="3.8"/>
<circle cx="450.4" cy="1378.4" r="3.8"/>
<circle cx="455.9" cy="1379.5" r="3.8"/>
<circle cx="461.4" cy="1379.5" r="3.8"/>
<circle cx="465.9" cy="1383.9" r="3.8"/>
<circle cx="457" cy="1388.3" r="3.8"/>
<circle cx="470.3" cy="1387.2" r="3.8"/>
<circle cx="474.7" cy="1388.3" r="3.8"/>
<circle cx="479.1" cy="1388.3" r="3.8"/>
<circle cx="483.5" cy="1390.5" r="3.8"/>
<circle cx="454.8" cy="1392.7" r="3.8"/>
<circle cx="461.4" cy="1393.8" r="3.8"/>
<circle cx="472.5" cy="1393.8" r="3.8"/>
<circle cx="484.6" cy="1394.9" r="3.8"/>
<circle cx="470.3" cy="1335.3" r="3.8"/>
<circle cx="475.8" cy="1340.3" r="3.8"/>
<circle cx="478.6" cy="1332" r="3.8"/>
<circle cx="488.5" cy="1340.3" r="3.8"/>
<circle cx="494.6" cy="1332" r="3.8"/>
<circle cx="500.1" cy="1332" r="3.8"/>
<circle cx="504.5" cy="1332" r="3.8"/>
<circle cx="500.1" cy="1342.5" r="3.8"/>
<circle cx="505.6" cy="1340.8" r="3.8"/>
<circle cx="511.1" cy="1344.7" r="3.8"/>
<circle cx="505.1" cy="1350.8" r="3.8"/>
<circle cx="471.4" cy="1364" r="3.8"/>
<circle cx="480.8" cy="1365.7" r="3.8"/>
<circle cx="497.3" cy="1360.2" r="3.8"/>
<circle cx="497.9" cy="1366.8" r="3.8"/>
<circle cx="508.4" cy="1371.2" r="3.8"/>
<circle cx="485.7" cy="1376.2" r="3.8"/>
<circle cx="490.1" cy="1375.1" r="3.8"/>
<circle cx="491.3" cy="1381.7" r="3.8"/>
<circle cx="492.3" cy="1386.1" r="3.8"/>
<circle cx="496.8" cy="1390.5" r="3.8"/>
<circle cx="502.3" cy="1392.7" r="3.8"/>
<circle cx="506.7" cy="1390.5" r="3.8"/>
<circle cx="511.1" cy="1391.6" r="3.8"/>
<circle cx="180.5" cy="1386.7" r="3.8"/>
<circle cx="189.0" cy="1387.7" r="3.8"/>
<circle cx="205.7" cy="1379.0" r="3.8"/>
<circle cx="165.9" cy="1391.4" r="3.8"/>
<circle cx="181.9" cy="1381.7" r="3.8"/>
<circle cx="229.7" cy="1385.5" r="3.8"/>
<circle cx="219.4" cy="1385.6" r="3.8"/>
<circle cx="206.5" cy="1380.4" r="3.8"/>
<circle cx="206.3" cy="1391.9" r="3.8"/>
<circle cx="199.0" cy="1389.9" r="3.8"/>
<circle cx="208.6" cy="1379.0" r="3.8"/>
<circle cx="214.3" cy="1387.5" r="3.8"/>
<circle cx="184.6" cy="1378.5" r="3.8"/>
<circle cx="221.3" cy="1385.6" r="3.8"/>
<circle cx="211.7" cy="1392.1" r="3.8"/>
<circle cx="211.4" cy="1392.7" r="3.8"/>
<circle cx="190.7" cy="1390.8" r="3.8"/>
<circle cx="193.9" cy="1393.0" r="3.8"/>
<circle cx="222.1" cy="1379.6" r="3.8"/>
<circle cx="173.8" cy="1381.5" r="3.8"/>
<circle cx="227.8" cy="1385.0" r="3.8"/>
<circle cx="205.7" cy="1382.8" r="3.8"/>
<circle cx="325.4" cy="1387.6" r="3.8"/>
<circle cx="317.5" cy="1390.0" r="3.8"/>
<circle cx="329.2" cy="1393.9" r="3.8"/>
<circle cx="334.1" cy="1394.1" r="3.8"/>
<circle cx="342.8" cy="1394.9" r="3.8"/>
<circle cx="333.6" cy="1385.0" r="3.8"/>
<circle cx="343.0" cy="1394.6" r="3.8"/>
<circle cx="345.2" cy="1389.8" r="3.8"/>
<circle cx="335.7" cy="1385.5" r="3.8"/>
<circle cx="341.6" cy="1389.9" r="3.8"/>
<circle cx="402.7" cy="1386.6" r="3.8"/>
<circle cx="418.1" cy="1394.9" r="3.8"/>
<circle cx="397.4" cy="1393.2" r="3.8"/>
<circle cx="406.1" cy="1387.4" r="3.8"/>
<circle cx="402.9" cy="1392.9" r="3.8"/>
<circle cx="418.6" cy="1386.4" r="3.8"/>
<circle cx="491.9" cy="1380.7" r="3.8"/>
<circle cx="498.1" cy="1385.0" r="3.8"/>
<circle cx="507.9" cy="1394.7" r="3.8"/>
<circle cx="485.3" cy="1395.0" r="3.8"/>
<circle cx="473.6" cy="1381.2" r="3.8"/>
<circle cx="491.0" cy="1380.5" r="3.8"/>
<circle cx="466.8" cy="1386.1" r="3.8"/>
<circle cx="491.6" cy="1382.3" r="3.8"/>
<circle cx="457.5" cy="1393.0" r="3.8"/>
<circle cx="473.8" cy="1394.4" r="3.8"/>
<circle cx="508.8" cy="1385.7" r="3.8"/>
<circle cx="482.6" cy="1387.8" r="3.8"/>
<circle cx="493.6" cy="1388.9" r="3.8"/>
<circle cx="488.6" cy="1389.3" r="3.8"/>
<circle cx="511.4" cy="1387.6" r="3.8"/>
<circle cx="480.9" cy="1390.8" r="3.8"/>
<circle cx="469.3" cy="1384.5" r="3.8"/>
<circle cx="513.7" cy="1387.8" r="3.8"/>
<circle cx="487.9" cy="1380.2" r="3.8"/>
<circle cx="479.9" cy="1388.7" r="3.8"/>
<circle cx="456.2" cy="1389.2" r="3.8"/>
<circle cx="492.9" cy="1380.9" r="3.8"/>
<circle cx="291.8" cy="1366.4" r="3.8"/>
<circle cx="292.9" cy="1364.3" r="3.8"/>
<circle cx="293.6" cy="1371.3" r="3.8"/>
<circle cx="278.5" cy="1359.1" r="3.8"/>
<circle cx="292.9" cy="1375.3" r="3.8"/>
<circle cx="283.5" cy="1366.2" r="3.8"/>
<circle cx="291.0" cy="1363.8" r="3.8"/>
<circle cx="286.0" cy="1363.6" r="3.8"/>
<circle cx="260.5" cy="1356.0" r="3.8"/>
<circle cx="258.9" cy="1353.8" r="3.8"/>
<circle cx="269.8" cy="1350.3" r="3.8"/>
<circle cx="265.1" cy="1357.4" r="3.8"/>
<circle cx="259.1" cy="1352.2" r="3.8"/>
<circle cx="270.5" cy="1352.4" r="3.8"/>
<circle cx="332.8" cy="1356.1" r="3.8"/>
<circle cx="340.5" cy="1351.4" r="3.8"/>
<circle cx="334.8" cy="1354.7" r="3.8"/>
<circle cx="342.5" cy="1356.1" r="3.8"/>
<circle cx="342.8" cy="1352.4" r="3.8"/>
<circle cx="211.7" cy="1390.8" r="3.8"/>
<circle cx="222.7" cy="1388.4" r="3.8"/>
<circle cx="209.5" cy="1384.5" r="3.8"/>
<circle cx="215.6" cy="1385.3" r="3.8"/>
<circle cx="221.1" cy="1393.1" r="3.8"/>
<circle cx="208.7" cy="1386.3" r="3.8"/>
</g>
<circle cx="386.9" cy="1276.8" r="4" fill="#ff0000"/>
<text transform="translate(385.5,1258.5) rotate(-6)" style="font-size:23.1px">Indel-62915822</text>
<text x="-0.5" y="431" class="pl">c</text>
<text x="137" y="433.7" class="t235" font-weight="bold" font-style="italic">GC1</text>
<text x="784" y="431.9" style="font-size:23px" font-weight="bold" text-anchor="end">Chr. 1</text>
<rect x="98.5" y="442.6" width="417" height="15.6" rx="4" fill="#fff" stroke="#222" stroke-width="2"/>
<rect x="533.4" y="442.6" width="251.3" height="15.6" rx="4" fill="#fff" stroke="#222" stroke-width="2"/>
<circle cx="524.4" cy="450.2" r="8.4" fill="#000"/>
<rect x="146.6" y="442.6" width="22" height="15.6" fill="#ff0000" stroke="#222" stroke-width="2"/>
<path d="M146.8,459 V489 M152.9,493 L106.2,569.7 M168.1,459 V489 M175.5,493 L551.7,573" stroke="#737373" stroke-width="2.6" stroke-dasharray="8 3.2" fill="none"/>
<text transform="translate(106.5,563.5) rotate(-61)" class="t228">MSR0061</text>
<text transform="translate(149.9,562) rotate(-61)" class="t228">MIN0019</text>
<text transform="translate(347.7,563) rotate(-61)" class="t228">MIN0032</text>
<text transform="translate(386.1,559.5) rotate(-61)" class="t228">MSN0111</text>
<text transform="translate(417.5,561) rotate(-61)" class="t228">MSR0069</text>
<text transform="translate(441.2,563.7) rotate(-61)" class="t228">MSN0013</text>
<text transform="translate(473.2,565.8) rotate(-61)" class="t228">SAM39569</text>
<text transform="translate(554.8,562.3) rotate(-61)" class="t228">MSR0084</text>
<text x="205" y="565.2" class="t22">N1 =1084</text>
<rect x="95.2" y="574.5" width="464.6" height="15.5" fill="#404040" stroke="#1a1a1a" stroke-width="1.2"/>
<text x="578" y="590" class="t22">No. of</text>
<text x="578" y="615.8" class="t22">recombinants</text>
<line x1="103.7" y1="562.5" x2="103.7" y2="603" stroke="#000" stroke-width="2.6"/>
<line x1="147.6" y1="562.5" x2="147.6" y2="603" stroke="#000" stroke-width="2.6"/>
<line x1="345.1" y1="562.5" x2="345.1" y2="603" stroke="#000" stroke-width="2.6"/>
<line x1="385.8" y1="562.5" x2="385.8" y2="603" stroke="#000" stroke-width="2.6"/>
<line x1="414" y1="562.5" x2="414" y2="603" stroke="#000" stroke-width="2.6"/>
<line x1="427.9" y1="562.5" x2="427.9" y2="603" stroke="#000" stroke-width="2.6"/>
<line x1="461.4" y1="562.5" x2="461.4" y2="603" stroke="#000" stroke-width="2.6"/>
<line x1="551.7" y1="562.5" x2="551.7" y2="603" stroke="#000" stroke-width="2.6"/>
<rect x="95.2" y="664.4" width="464.59999999999997" height="14.600000000000023" fill="#4343ff"/>
<rect x="95.2" y="664.4" width="464.59999999999997" height="14.600000000000023" fill="none" stroke="#111" stroke-width="1.6"/>
<text x="10.4" y="680.5" class="t215">SN010</text>
<text x="576.7" y="679.7" class="t215">HGC</text>
<rect x="95.2" y="708.3" width="464.59999999999997" height="14.700000000000045" fill="#ffc000"/>
<rect x="95.2" y="708.3" width="464.59999999999997" height="14.700000000000045" fill="none" stroke="#111" stroke-width="1.6"/>
<text x="10.4" y="724.5" class="t215">M-81E</text>
<text x="576.7" y="723.7" class="t215">LGC</text>
<rect x="96.4" y="753.7" width="331.29999999999995" height="14.399999999999977" fill="#4343ff"/>
<rect x="427.7" y="753.7" width="133.50000000000006" height="14.399999999999977" fill="#ffc000"/>
<rect x="96.4" y="753.7" width="464.80000000000007" height="14.399999999999977" fill="none" stroke="#111" stroke-width="1.6"/>
<line x1="427.7" y1="753.7" x2="427.7" y2="768.1" stroke="#111" stroke-width="1.6"/>
<text x="10.4" y="769.3" class="t215">Type 1</text>
<text x="576.7" y="768.5" class="t215">HGC</text>
<rect x="94" y="802.3" width="249.7" height="13.700000000000045" fill="#ffc000"/>
<rect x="343.7" y="802.3" width="216.3" height="13.700000000000045" fill="#4343ff"/>
<rect x="94.0" y="802.3" width="466.0" height="13.700000000000045" fill="none" stroke="#111" stroke-width="1.6"/>
<line x1="343.7" y1="802.3" x2="343.7" y2="816.0" stroke="#111" stroke-width="1.6"/>
<text x="10.4" y="817.5" class="t215">Type 2</text>
<text x="576.7" y="816.7" class="t215">HGC</text>
<rect x="95.1" y="851.3" width="289.29999999999995" height="14.400000000000091" fill="#ffc000"/>
<rect x="384.4" y="851.3" width="177.10000000000002" height="14.400000000000091" fill="#4343ff"/>
<rect x="95.1" y="851.3" width="466.4" height="14.400000000000091" fill="none" stroke="#111" stroke-width="1.6"/>
<line x1="384.4" y1="851.3" x2="384.4" y2="865.7" stroke="#111" stroke-width="1.6"/>
<text x="10.4" y="866.3" class="t215">Type 3</text>
<text x="576.7" y="865.5" class="t215">HGC</text>
<rect x="95.2" y="943.2" width="318.8" height="13.0" fill="#4343ff"/>
<rect x="414" y="943.2" width="147.5" height="13.0" fill="#ffc000"/>
<rect x="95.2" y="943.2" width="466.3" height="13.0" fill="none" stroke="#111" stroke-width="1.6"/>
<line x1="414" y1="943.2" x2="414" y2="956.2" stroke="#111" stroke-width="1.6"/>
<text x="10.4" y="956.6" class="t215">Type 4</text>
<text x="576.7" y="955.8000000000001" class="t215">LGC</text>
<line x1="103.7" y1="605.5" x2="103.7" y2="866" stroke="#000" stroke-width="2.6" stroke-dasharray="7.6 3.7"/>
<line x1="147.6" y1="605.5" x2="147.6" y2="866" stroke="#000" stroke-width="2.6" stroke-dasharray="7.6 3.7"/>
<line x1="345.1" y1="605.5" x2="345.1" y2="866" stroke="#000" stroke-width="2.6" stroke-dasharray="7.6 3.7"/>
<line x1="385.8" y1="605.5" x2="385.8" y2="955" stroke="#000" stroke-width="2.6" stroke-dasharray="7.6 3.7"/>
<line x1="414" y1="605.5" x2="414" y2="955" stroke="#000" stroke-width="2.6" stroke-dasharray="7.6 3.7"/>
<line x1="427.9" y1="605.5" x2="427.9" y2="955" stroke="#000" stroke-width="2.6" stroke-dasharray="7.6 3.7"/>
<line x1="461.4" y1="605.5" x2="461.4" y2="866" stroke="#000" stroke-width="2.6" stroke-dasharray="7.6 3.7"/>
<line x1="551.7" y1="605.5" x2="551.7" y2="866" stroke="#000" stroke-width="2.6" stroke-dasharray="7.6 3.7"/>
<path d="M637.6,634 V983.3 H760.2 M638,983.3 V990 M699.2,983.3 V990 M760,983.3 V990" fill="none" stroke="#000" stroke-width="2"/>
<text x="638" y="1014.7" class="t215" text-anchor="middle">0.0</text>
<text x="699.2" y="1014.7" class="t215" text-anchor="middle">0.5</text>
<text x="760" y="1014.7" class="t215" text-anchor="middle">1.0</text>
<text x="621.4" y="1048.9" class="t215">Threshing rate</text>
<path d="M658.1,652.9 L662.7,657.8 L666.1,660.1 L666.1,676 L662.7,678.2 L658.1,682.8 L653.6,678.2 L649.8,676 L649.8,660.1 L653.6,657.8 Z" fill="#d9d9d9" stroke="#000" stroke-width="1.9" stroke-linejoin="round"/>
<path d="M748.4,700.9 L751.8,703.9 L759.3,706.2 L759.3,723.5 L751.8,726.2 L748.4,730 L745.7,726.6 L742.7,721.3 L738.9,722 L738.9,709.2 L742,710 L745.4,704.7 Z" fill="#d9d9d9" stroke="#000" stroke-width="1.9" stroke-linejoin="round"/>
<path d="M679.4,747.6 L684.2,752.6 L686.7,755.8 L690.5,756.7 L691.1,758.9 L691.1,767.8 L689.8,769 L686.1,769.7 L683.5,772.8 L679.4,777.5 L675.3,774.1 L669.7,769.7 L666.5,772.2 L664,774.1 L662.7,772.2 L662.7,752.6 L664,751.4 L666.5,753.9 L669.7,755.8 L675.3,751.4 Z" fill="#d9d9d9" stroke="#000" stroke-width="1.9" stroke-linejoin="round"/>
<path d="M674.7,794.9 L679.1,797.4 L684.2,803.1 L685.4,805.6 L685.4,814.4 L683.5,817.6 L679.1,822 L674.7,824.9 L671.5,822 L669,817 L666.5,814.4 L663.3,815.7 L660.8,817.6 L658.3,816.3 L655.1,812.6 L652.6,810 L647.6,812.6 L645,811.9 L645,808.1 L647.6,807.5 L652.6,810 L655.1,807.5 L658.3,803.1 L660.8,802.1 L664,803.7 L666.5,805 L669,802.5 L671.5,798 Z" fill="#d9d9d9" stroke="#000" stroke-width="1.9" stroke-linejoin="round"/>
<path d="M675.5,843 L676.3,873 L672,871 L666,867 L665.3,850 L670,846 Z" fill="#d9d9d9" stroke="#000" stroke-width="1.9" stroke-linejoin="round"/>
<path d="M724,938.5 L727.3,939.5 L727.3,966 L723,967 L719.5,964 L718.5,944 L721,940 Z" fill="#d9d9d9" stroke="#000" stroke-width="1.9" stroke-linejoin="round"/>
<line x1="658.1" y1="654" x2="658.1" y2="681.5" stroke="#333" stroke-width="1.1" stroke-dasharray="1.6 1.9"/>
<line x1="749.1" y1="702" x2="749.1" y2="729" stroke="#333" stroke-width="1.1" stroke-dasharray="1.6 1.9"/>
<line x1="677.9" y1="750" x2="677.9" y2="773.4" stroke="#333" stroke-width="1.1" stroke-dasharray="1.6 1.9"/>
<line x1="673.4" y1="797.4" x2="673.4" y2="822" stroke="#333" stroke-width="1.1" stroke-dasharray="1.6 1.9"/>
<line x1="675.5" y1="843.5" x2="675.5" y2="872.5" stroke="#333" stroke-width="1.1" stroke-dasharray="1.6 1.9"/>
<line x1="724" y1="939" x2="724" y2="966.5" stroke="#333" stroke-width="1.1" stroke-dasharray="1.6 1.9"/>
<text x="675.0" y="678.4" class="t215">N=6</text>
<text x="704.1" y="773" class="t215">N=11</text>
<text x="702.1" y="818" class="t215">N=19</text>
<text x="695.5" y="865.4" class="t215">N=6</text>
<text x="737.0" y="960" class="t215">N=4</text>
<text transform="translate(773.5,695.5) rotate(90)" class="t228">N=6</text>
<text x="254.5" y="930.5" class="t215">N2=594</text>
<text x="382.4" y="990.2" class="t215">58 Kb</text>
<path d="M414,956.5 L168,1023.5 M427.5,956.5 L494,1012" stroke="#737373" stroke-width="2.6" stroke-dasharray="8 3.2" fill="none"/>
<path d="M176,1017 L166.5,1023.8 L177,1027" fill="none" stroke="#808080" stroke-width="2"/>
<line x1="164.7" y1="1025" x2="510" y2="1025" stroke="#000" stroke-width="2.4"/>
<path d="M187.9,1013 H200 V1000.5 L210.3,1025 L200,1049.4 V1037 H187.9 Z" fill="#000"/>
<path d="M272,1013 H289.2 V1000.5 L306.2,1025 L289.2,1049.4 V1037 H272 Z" fill="#000"/>
<path d="M358.1,1013 H376.5 V1000.5 L395,1025 L376.5,1049.4 V1037 H358.1 Z" fill="#ff0000"/>
<path d="M427.8,1013 H459.7 V1000.5 L482.9,1025 L459.7,1049.4 V1037 H427.8 Z" fill="#000"/>
<path d="M484.3,1013 H497.1 V1000.5 L510.2,1025 L497.1,1049.4 V1037 H484.3 Z" fill="#000"/>
<path d="M538.4,1021.4 V1027 H573 V1021.4" fill="none" stroke="#000" stroke-width="2.2"/>
<text x="534.8" y="1053.5" class="t215">5 Kb</text>
<text x="832" y="432.3" class="pl">d</text>
<text x="878" y="451" class="t215">ATG</text>
<text x="879.5" y="491" class="t195">1</text>
<text x="1639.8" y="448.6" class="t215">TGA</text>
<text x="1676" y="492.8" class="t195">4417</text>
<line x1="931" y1="482" x2="1587" y2="482" stroke="#000" stroke-width="2.4"/>
<rect x="895.5" y="474" width="35.60000000000002" height="16.5" fill="#ff99ff" stroke="#000" stroke-width="2"/>
<rect x="1304.6" y="474" width="11.800000000000182" height="16.5" fill="#ff99ff" stroke="#000" stroke-width="2"/>
<rect x="1361.9" y="474" width="9.799999999999955" height="16.5" fill="#ff99ff" stroke="#000" stroke-width="2"/>
<rect x="1386.3" y="474" width="10.200000000000045" height="16.5" fill="#ff99ff" stroke="#000" stroke-width="2"/>
<rect x="1586.7" y="474" width="82.70000000000005" height="16.5" fill="#ff99ff" stroke="#000" stroke-width="2"/>
<path d="M895.5,461.5 V474 M1669,461.4 V474 M924.6,466.2 V496.3 M1600.9,467 V498.4 M1626.9,466.1 V515.7 M1659,466.1 V535 M1608.2,484 V501.2 M1620.6,479.7 V508.2 M1644.7,507.8 V526" fill="none" stroke="#000" stroke-width="2"/>
<path d="M1603,460.5 L1613.3,460.5 L1608.2,486 Z" fill="#000"/>
<path d="M1608.6,449.8 L1632.5,449.8 L1620.6,479.7 Z" fill="#808080" stroke="#000" stroke-width="1.5" stroke-linejoin="round"/>
<path d="M1644.7,484.8 L1639,507.8 L1650.3,507.8 Z" fill="#000"/>
<path d="M924.6,496.3 L918,572.5 M1600.9,498.4 L1594,500 L998,572.5 M1608.2,501.2 L1602,503 L1115.8,572.5 M1620.6,508.2 L1614,510 L1238.8,572.5 M1626.9,515.7 L1620,518 L1346.3,572.5 M1644.7,526 L1638,528 L1463.2,572.5 M1659,535 L1571,572.5" fill="none" stroke="#000" stroke-width="1.6" stroke-dasharray="5 3.2"/>
<rect x="877.5" y="573.2" width="811.0" height="37.5" fill="#c5e0b4"/>
<rect x="877.5" y="610.7" width="811.0" height="272.4" fill="#f2f2f2"/>
<path d="M877.5,573.2 V883.1 M950.7,573.2 V883.1 M1042.4,573.2 V883.1 M1185.3,573.2 V883.1 M1294.4,573.2 V883.1 M1392.4,573.2 V883.1 M1522,573.2 V883.1 M1609.8,573.2 V883.1 M1688.5,573.2 V883.1 M876.5,573.2 H1689.5 M876.5,610.7 H1689.5 M876.5,675.7 H1689.5 M876.5,714.2 H1689.5 M876.5,751.9 H1689.5 M876.5,817.9 H1689.5 M876.5,883.1 H1689.5" stroke="#111" stroke-width="2" fill="none"/>
<text x="914.1" y="600.5" class="t215" text-anchor="middle">100</text>
<text x="996.5500000000001" y="600.5" class="t215" text-anchor="middle">4151</text>
<text x="1113.85" y="600.5" class="t215" text-anchor="middle">4158</text>
<text x="1239.85" y="600.5" class="t215" text-anchor="middle">4180</text>
<text x="1343.4" y="600.5" class="t215" text-anchor="middle">4243</text>
<text x="1457.2" y="600.5" class="t215" text-anchor="middle">4285</text>
<text x="1565.9" y="600.5" class="t215" text-anchor="middle">4358</text>
<text x="1649.15" y="600.5" class="t215" text-anchor="middle">Hap.</text>
<text x="914.1" y="652" class="t22" text-anchor="middle">A</text>
<text x="996.5500000000001" y="652" class="t22" text-anchor="middle">A</text>
<text x="1113.85" y="652" class="t22" text-anchor="middle">G</text>
<text x="1239.85" y="650" font-size="17" font-weight="bold" text-anchor="middle" fill="#000">—</text>
<text x="1343.4" y="652" class="t22" text-anchor="middle">C</text>
<text x="1457.2" y="638" class="t22" text-anchor="middle">CGGCGG</text>
<text x="1457.2" y="665.5" class="t22" text-anchor="middle">CTG</text>
<text x="1565.9" y="652" class="t22" text-anchor="middle">T</text>
<text x="1649.15" y="653" class="t22" text-anchor="middle" font-style="italic" stroke="#000" stroke-width="0.55">GC1</text>
<text x="914.1" y="703.2" class="t22" text-anchor="middle">G</text>
<text x="996.5500000000001" y="703.2" class="t22" text-anchor="middle">G</text>
<text x="1113.85" y="703.2" class="t22" text-anchor="middle" fill="#ff0000">GGTGGC</text>
<text x="1239.85" y="701.2" font-size="17" font-weight="bold" text-anchor="middle" fill="#000">—</text>
<text x="1343.4" y="703.2" class="t22" text-anchor="middle">C</text>
<text x="1457.2" y="701.2" font-size="17" font-weight="bold" text-anchor="middle" fill="#000">—</text>
<text x="1565.9" y="703.2" class="t22" text-anchor="middle">G</text>
<text x="1649.15" y="704.2" class="t22" text-anchor="middle" font-style="italic" stroke="#000" stroke-width="0.55">gc1-a</text>
<text x="914.1" y="741.2" class="t22" text-anchor="middle">G</text>
<text x="996.5500000000001" y="741.2" class="t22" text-anchor="middle">G</text>
<text x="1113.85" y="739.2" font-size="17" font-weight="bold" text-anchor="middle" fill="#ff0000">—</text>
<text x="1239.85" y="739.2" font-size="17" font-weight="bold" text-anchor="middle" fill="#000">—</text>
<text x="1343.4" y="741.2" class="t22" text-anchor="middle">C</text>
<text x="1457.2" y="739.2" font-size="17" font-weight="bold" text-anchor="middle" fill="#000">—</text>
<text x="1565.9" y="741.2" class="t22" text-anchor="middle">G</text>
<text x="1649.15" y="742.2" class="t22" text-anchor="middle" font-style="italic" stroke="#000" stroke-width="0.55">gc1-b</text>
<text x="914.1" y="793.1" class="t22" text-anchor="middle">A</text>
<text x="996.5500000000001" y="793.1" class="t22" text-anchor="middle">A</text>
<text x="1113.85" y="793.1" class="t22" text-anchor="middle">G</text>
<text x="1239.85" y="791.1" font-size="17" font-weight="bold" text-anchor="middle" fill="#000">—</text>
<text x="1343.4" y="793.1" class="t22" text-anchor="middle" fill="#ff0000">A</text>
<text x="1457.2" y="779.4" class="t22" text-anchor="middle">CGGCGG</text>
<text x="1457.2" y="806.9" class="t22" text-anchor="middle">CTG</text>
<text x="1565.9" y="793.1" class="t22" text-anchor="middle">T</text>
<text x="1649.15" y="794.1" class="t22" text-anchor="middle" font-style="italic" stroke="#000" stroke-width="0.55">gc1-c</text>
<text x="914.1" y="858.6" class="t22" text-anchor="middle">A</text>
<text x="996.5500000000001" y="858.6" class="t22" text-anchor="middle">A</text>
<text x="1113.85" y="858.6" class="t22" text-anchor="middle">GGGTGGC</text>
<text x="1239.85" y="844.9" class="t22" text-anchor="middle" fill="#ff0000">165 bp</text>
<text x="1239.85" y="872.4" class="t22" text-anchor="middle" fill="#ff0000">insertion</text>
<text x="1343.4" y="858.6" class="t22" text-anchor="middle">C</text>
<text x="1457.2" y="844.4" class="t22" text-anchor="middle">CGGCGG</text>
<text x="1457.2" y="871.8" class="t22" text-anchor="middle">CTG</text>
<text x="1565.9" y="858.6" class="t22" text-anchor="middle">T</text>
<text x="1649.15" y="859.6" class="t22" text-anchor="middle" font-style="italic" stroke="#000" stroke-width="0.55">gc1-d</text>
<text x="840.7" y="941.3" class="pl">e</text>
<path d="M951,997.4 H957.7 V1196.7 M951,1066.3 H957.7 M951,1135.1 H957.7 M951,1196.7 H1481.3" fill="none" stroke="#000" stroke-width="2.4"/>
<text x="946.7" y="1004.4" class="t195" text-anchor="end">15</text>
<text x="946.7" y="1073.3" class="t195" text-anchor="end">10</text>
<text x="946.7" y="1142.1" class="t195" text-anchor="end">5</text>
<text x="946.7" y="1203.7" class="t195" text-anchor="end">0</text>
<text transform="translate(911,1099) rotate(-90)" class="t22" text-anchor="middle">-Log<tspan font-size="15" dy="4">10</tspan><tspan dy="-4"> (</tspan><tspan font-style="italic">P</tspan>-value)</text>
<circle cx="991.5" cy="1175.2" r="7" fill="#00b050" stroke="#111" stroke-width="1.4"/>
<circle cx="991.5" cy="1188.3" r="7" fill="#808080" stroke="#111" stroke-width="1.4"/>
<circle cx="991.5" cy="1105.2" r="7" fill="#ff0000" stroke="#111" stroke-width="1.4"/>
<circle cx="1070.8" cy="1180.5" r="7" fill="#00b050" stroke="#111" stroke-width="1.4"/>
<circle cx="1070.8" cy="1188" r="7" fill="#808080" stroke="#111" stroke-width="1.4"/>
<circle cx="1070.8" cy="1025.8" r="7" fill="#ff0000" stroke="#111" stroke-width="1.4"/>
<circle cx="1150.1" cy="1183" r="7" fill="#00b050" stroke="#111" stroke-width="1.4"/>
<circle cx="1150.1" cy="1187.4" r="7" fill="#808080" stroke="#111" stroke-width="1.4"/>
<circle cx="1150.1" cy="1021.3" r="7" fill="#ff0000" stroke="#111" stroke-width="1.4"/>
<circle cx="1228.6" cy="1176" r="7" fill="#808080" stroke="#111" stroke-width="1.4"/>
<circle cx="1228.6" cy="1188.9" r="7" fill="#ff0000" stroke="#111" stroke-width="1.4"/>
<circle cx="1307.4" cy="1132" r="7" fill="#00b0f0" stroke="#111" stroke-width="1.4"/>
<circle cx="1307.4" cy="1140.7" r="7" fill="#808080" stroke="#111" stroke-width="1.4"/>
<circle cx="1307.4" cy="1178" r="7" fill="#00b050" stroke="#111" stroke-width="1.4"/>
<circle cx="1307.4" cy="1187.3" r="7" fill="#ff0000" stroke="#111" stroke-width="1.4"/>
<circle cx="1386.6" cy="1190" r="7" fill="#00b0f0" stroke="#111" stroke-width="1.4"/>
<circle cx="1386.6" cy="1185.8" r="7" fill="#808080" stroke="#111" stroke-width="1.4"/>
<circle cx="1386.6" cy="1033" r="7" fill="#ff0000" stroke="#111" stroke-width="1.4"/>
<circle cx="1465.3" cy="1185.3" r="7" fill="#00b050" stroke="#111" stroke-width="1.4"/>
<circle cx="1465.3" cy="1191" r="7" fill="#808080" stroke="#111" stroke-width="1.4"/>
<circle cx="1465.3" cy="1092" r="7" fill="#ff0000" stroke="#111" stroke-width="1.4"/>
<circle cx="1474.6" cy="949.7" r="5.6" fill="#ff0000" stroke="#111" stroke-width="1.3"/>
<text x="1488" y="955.7" class="t20">Glume coverage</text>
<circle cx="1474.6" cy="982.5" r="5.6" fill="#00b050" stroke="#111" stroke-width="1.3"/>
<text x="1488" y="988.8" class="t20">Seed length</text>
<circle cx="1474.6" cy="1016" r="5.6" fill="#00b0f0" stroke="#111" stroke-width="1.3"/>
<text x="1488" y="1021.8" class="t20">Seed width</text>
<circle cx="1474.6" cy="1049.9" r="5.6" fill="#808080" stroke="#111" stroke-width="1.3"/>
<text x="1488" y="1055.7" class="t20">Thousand seed weight</text>
<path d="M1067.5,1200.8 L1045.2,1272.1 M1149.3,1200.8 L1127,1272.1 M1385.6,1200.8 L1371.9,1272.1" stroke="#000" stroke-width="2.2" fill="none"/>
<path d="M1004.8,1251.0 L1045.5,1272.5 L1004.8,1294.0 L964.1,1272.5 Z" fill="#c55a11" stroke="#000" stroke-width="1.3" stroke-linejoin="round"/>
<path d="M1086.2,1251.0 L1127.0,1272.5 L1086.2,1294.0 L1045.5,1272.5 Z" fill="#843c0c" stroke="#000" stroke-width="1.3" stroke-linejoin="round"/>
<path d="M1167.7,1251.0 L1208.4,1272.5 L1167.7,1294.0 L1127.0,1272.5 Z" fill="#fbe5d6" stroke="#000" stroke-width="1.3" stroke-linejoin="round"/>
<path d="M1249.1,1251.0 L1289.8,1272.5 L1249.1,1294.0 L1208.4,1272.5 Z" fill="#fbe5d6" stroke="#000" stroke-width="1.3" stroke-linejoin="round"/>
<path d="M1330.6,1251.0 L1371.3,1272.5 L1330.6,1294.0 L1289.8,1272.5 Z" fill="#fbe5d6" stroke="#000" stroke-width="1.3" stroke-linejoin="round"/>
<path d="M1412.0,1251.0 L1452.7,1272.5 L1412.0,1294.0 L1371.3,1272.5 Z" fill="#843c0c" stroke="#000" stroke-width="1.3" stroke-linejoin="round"/>
<path d="M1045.5,1272.5 L1086.2,1294.0 L1045.5,1315.5 L1004.8,1294.0 Z" fill="#f4b183" stroke="#000" stroke-width="1.3" stroke-linejoin="round"/>
<path d="M1127.0,1272.5 L1167.7,1294.0 L1127.0,1315.5 L1086.2,1294.0 Z" fill="#fbe5d6" stroke="#000" stroke-width="1.3" stroke-linejoin="round"/>
<path d="M1208.4,1272.5 L1249.1,1294.0 L1208.4,1315.5 L1167.7,1294.0 Z" fill="#fbe5d6" stroke="#000" stroke-width="1.3" stroke-linejoin="round"/>
<path d="M1289.8,1272.5 L1330.6,1294.0 L1289.8,1315.5 L1249.1,1294.0 Z" fill="#fbe5d6" stroke="#000" stroke-width="1.3" stroke-linejoin="round"/>
<path d="M1371.3,1272.5 L1412.0,1294.0 L1371.3,1315.5 L1330.6,1294.0 Z" fill="#fbe5d6" stroke="#000" stroke-width="1.3" stroke-linejoin="round"/>
<path d="M1086.2,1294.0 L1127.0,1315.5 L1086.2,1337.0 L1045.5,1315.5 Z" fill="#fbe5d6" stroke="#000" stroke-width="1.3" stroke-linejoin="round"/>
<path d="M1167.7,1294.0 L1208.4,1315.5 L1167.7,1337.0 L1127.0,1315.5 Z" fill="#fbe5d6" stroke="#000" stroke-width="1.3" stroke-linejoin="round"/>
<path d="M1249.1,1294.0 L1289.8,1315.5 L1249.1,1337.0 L1208.4,1315.5 Z" fill="#843c0c" stroke="#000" stroke-width="1.3" stroke-linejoin="round"/>
<path d="M1330.6,1294.0 L1371.3,1315.5 L1330.6,1337.0 L1289.8,1315.5 Z" fill="#fbe5d6" stroke="#000" stroke-width="1.3" stroke-linejoin="round"/>
<path d="M1127.0,1315.5 L1167.7,1337.0 L1127.0,1358.5 L1086.2,1337.0 Z" fill="#fbe5d6" stroke="#000" stroke-width="1.3" stroke-linejoin="round"/>
<path d="M1208.4,1315.5 L1249.1,1337.0 L1208.4,1358.5 L1167.7,1337.0 Z" fill="#843c0c" stroke="#000" stroke-width="1.3" stroke-linejoin="round"/>
<path d="M1289.8,1315.5 L1330.6,1337.0 L1289.8,1358.5 L1249.1,1337.0 Z" fill="#843c0c" stroke="#000" stroke-width="1.3" stroke-linejoin="round"/>
<path d="M1167.7,1337.0 L1208.4,1358.5 L1167.7,1380.0 L1127.0,1358.5 Z" fill="#f4b183" stroke="#000" stroke-width="1.3" stroke-linejoin="round"/>
<path d="M1249.1,1337.0 L1289.8,1358.5 L1249.1,1380.0 L1208.4,1358.5 Z" fill="#843c0c" stroke="#000" stroke-width="1.3" stroke-linejoin="round"/>
<path d="M1208.4,1358.5 L1249.1,1380.0 L1208.4,1401.5 L1167.7,1380.0 Z" fill="#c55a11" stroke="#000" stroke-width="1.3" stroke-linejoin="round"/>
<path d="M919.9,1249.9 L1495.2,1249.9 L1208.5,1401.5 Z" fill="none" stroke="#000" stroke-width="2"/>
<path d="M1045.2,1272.5 L1249.6,1379.5 M1126.7,1272.5 L1289.7,1358.3 M1371.5,1272.5 L1411.5,1294" stroke="#000" stroke-width="3.2" fill="none"/>
<text x="934.3" y="1301.2" class="t163">+4151</text>
<text x="973.9" y="1323.2" class="t163">+4158</text>
<text x="1017.7" y="1344.5" class="t163">+4180</text>
<text x="1057.7" y="1366.1" class="t163">+4243</text>
<text x="1101.8" y="1388.6" class="t163">+4285</text>
<text x="1141.4" y="1407.5" class="t163">+4358</text>
<text x="1440.3" y="1296.7" class="t163">+4285</text>
<text x="1396.6" y="1320.9" class="t163">+4243</text>
<text x="1357.6" y="1343.2" class="t163">+4180</text>
<text x="1313.9" y="1363.7" class="t163">+4158</text>
<text x="1274.8" y="1385" class="t163">+4151</text>
<text x="1235.8" y="1406.4" class="t163">+100</text>
<path d="M1386.3,1396.5 L1407.7,1405.8 L1427.0,1394.1 L1405.6,1384.8 Z" fill="#fbe5d6"/>
<path d="M1405.6,1384.8 L1427.0,1394.1 L1446.3,1382.4 L1425.0,1373.1 Z" fill="#f8cbad"/>
<path d="M1425.0,1373.1 L1446.3,1382.4 L1465.7,1370.6 L1444.3,1361.3 Z" fill="#f4b183"/>
<path d="M1444.3,1361.3 L1465.7,1370.6 L1485.0,1358.9 L1463.7,1349.6 Z" fill="#c55a11"/>
<path d="M1463.7,1349.6 L1485.0,1358.9 L1504.3,1347.2 L1483.0,1337.9 Z" fill="#843c0c"/>
<path d="M1386.3,1396.5 L1407.7,1405.8 L1504.3,1347.2 L1483,1337.9 Z" fill="none" stroke="#000" stroke-width="1.8" stroke-linejoin="round"/>
<text x="1497.5" y="1335.6" class="t163">r<tspan font-size="11" dy="-7">2</tspan></text>
<text x="1507.5" y="1358" class="t163">1</text>
<text x="1406.5" y="1424.4" class="t163">0</text>
</svg>
</body></html>
